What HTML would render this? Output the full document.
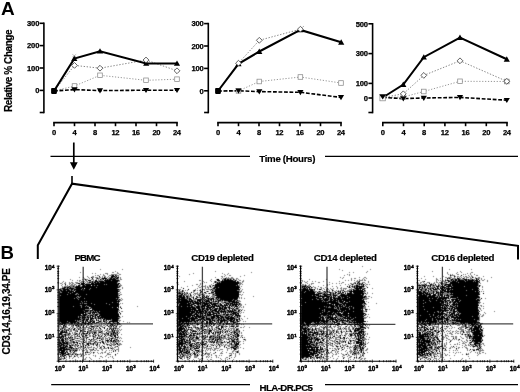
<!DOCTYPE html>
<html><head><meta charset="utf-8"><title>Figure</title>
<style>html,body{margin:0;padding:0;background:#fff;}svg{display:block;will-change:transform;}</style>
</head><body>
<svg width="520" height="392" viewBox="0 0 520 392" font-family="Liberation Sans, sans-serif" font-weight="bold" fill="#000">
<rect width="520" height="392" fill="#fff"/>
<defs><filter id="bl" x="-5%" y="-5%" width="110%" height="110%"><feConvolveMatrix order="3" kernelMatrix="0.0113 0.0838 0.0113 0.0838 0.6196 0.0838 0.0113 0.0838 0.0113" divisor="1" edgeMode="none" preserveAlpha="false"/></filter></defs>
<text x="0.9" y="14.8" font-size="19" text-anchor="start" >A</text>
<text x="0.5" y="258.7" font-size="18.6" text-anchor="start" >B</text>
<text x="11.7" y="112.0" font-size="10" text-anchor="start" textLength="82.6" lengthAdjust="spacing" transform="rotate(-90 11.7 112.0)" stroke="#000" stroke-width="0.18">Relative % Change</text>
<path d="M43.9 22.5V113.3" stroke="#000" stroke-width="1.6" fill="none"/>
<path d="M39.699999999999996 23.3H43.9" stroke="#000" stroke-width="1.6"/>
<text x="39.4" y="26.1" font-size="7.6" text-anchor="end" textLength="12.4" lengthAdjust="spacing" stroke="#000" stroke-width="0.25">300</text>
<path d="M39.699999999999996 45.6H43.9" stroke="#000" stroke-width="1.6"/>
<text x="39.4" y="48.4" font-size="7.6" text-anchor="end" textLength="12.4" lengthAdjust="spacing" stroke="#000" stroke-width="0.25">200</text>
<path d="M39.699999999999996 68.0H43.9" stroke="#000" stroke-width="1.6"/>
<text x="39.4" y="70.8" font-size="7.6" text-anchor="end" textLength="12.4" lengthAdjust="spacing" stroke="#000" stroke-width="0.25">100</text>
<path d="M39.699999999999996 90.4H43.9" stroke="#000" stroke-width="1.6"/>
<text x="39.4" y="93.2" font-size="7.6" text-anchor="end" textLength="4.1" lengthAdjust="spacing" stroke="#000" stroke-width="0.25">0</text>
<path d="M39.699999999999996 112.5H43.9" stroke="#000" stroke-width="1.6"/>
<path d="M53.2 122.6H177.8" stroke="#000" stroke-width="1.7" fill="none"/>
<path d="M54.0 122.6V126.19999999999999" stroke="#000" stroke-width="1.6"/>
<text x="54.0" y="134.5" font-size="7.6" text-anchor="middle" textLength="4.1" lengthAdjust="spacing" stroke="#000" stroke-width="0.25">0</text>
<path d="M74.5 122.6V126.19999999999999" stroke="#000" stroke-width="1.6"/>
<text x="74.5" y="134.5" font-size="7.6" text-anchor="middle" textLength="4.1" lengthAdjust="spacing" stroke="#000" stroke-width="0.25">4</text>
<path d="M95.0 122.6V126.19999999999999" stroke="#000" stroke-width="1.6"/>
<text x="95.0" y="134.5" font-size="7.6" text-anchor="middle" textLength="4.1" lengthAdjust="spacing" stroke="#000" stroke-width="0.25">8</text>
<path d="M115.5 122.6V126.19999999999999" stroke="#000" stroke-width="1.6"/>
<text x="115.5" y="134.5" font-size="7.6" text-anchor="middle" textLength="8.2" lengthAdjust="spacing" stroke="#000" stroke-width="0.25">12</text>
<path d="M136.0 122.6V126.19999999999999" stroke="#000" stroke-width="1.6"/>
<text x="136.0" y="134.5" font-size="7.6" text-anchor="middle" textLength="8.2" lengthAdjust="spacing" stroke="#000" stroke-width="0.25">16</text>
<path d="M156.5 122.6V126.19999999999999" stroke="#000" stroke-width="1.6"/>
<text x="156.5" y="134.5" font-size="7.6" text-anchor="middle" textLength="8.2" lengthAdjust="spacing" stroke="#000" stroke-width="0.25">20</text>
<path d="M177.0 122.6V126.19999999999999" stroke="#000" stroke-width="1.6"/>
<text x="177.0" y="134.5" font-size="7.6" text-anchor="middle" textLength="8.2" lengthAdjust="spacing" stroke="#000" stroke-width="0.25">24</text>
<polyline points="54.0,91.0 74.5,86.0 100.0,75.3 146.0,80.3 177.0,79.2" fill="none" stroke="#8a8a8a" stroke-width="0.9" stroke-dasharray="1.2 1.7"/>
<polyline points="54.0,91.0 74.5,65.4 100.0,68.2 146.0,60.0 177.0,70.8" fill="none" stroke="#7a7a7a" stroke-width="0.9" stroke-dasharray="1.4 1.6"/>
<polyline points="54.0,91.0 74.5,89.6 100.0,90.6 146.0,90.2 177.0,90.2" fill="none" stroke="#000" stroke-width="1.6" stroke-dasharray="3.8 1.7"/>
<polyline points="54.0,91.0 74.3,58.6 100.0,51.2 146.2,63.4 177.0,63.4" fill="none" stroke="#000" stroke-width="2.05" stroke-linejoin="miter"/>
<rect x="72.2" y="83.7" width="4.6" height="4.6" fill="#fff" stroke="#8a8a8a" stroke-width="0.75"/>
<rect x="97.7" y="73.0" width="4.6" height="4.6" fill="#fff" stroke="#8a8a8a" stroke-width="0.75"/>
<rect x="143.7" y="78.0" width="4.6" height="4.6" fill="#fff" stroke="#8a8a8a" stroke-width="0.75"/>
<rect x="174.7" y="76.9" width="4.6" height="4.6" fill="#fff" stroke="#8a8a8a" stroke-width="0.75"/>
<path d="M71.4 87.3L77.6 87.3L74.5 92.5Z" fill="#000"/>
<path d="M96.9 88.3L103.1 88.3L100.0 93.5Z" fill="#000"/>
<path d="M142.9 87.9L149.1 87.9L146.0 93.1Z" fill="#000"/>
<path d="M173.9 87.9L180.1 87.9L177.0 93.1Z" fill="#000"/>
<path d="M71.2 61.0L77.4 61.0L74.3 55.6Z" fill="#000"/>
<path d="M96.9 53.6L103.1 53.6L100.0 48.2Z" fill="#000"/>
<path d="M143.1 65.8L149.3 65.8L146.2 60.4Z" fill="#000"/>
<path d="M173.9 65.8L180.1 65.8L177.0 60.4Z" fill="#000"/>
<path d="M71.6 65.4L74.5 62.5L77.4 65.4L74.5 68.3Z" fill="#fff" stroke="#3a3a3a" stroke-width="0.8"/>
<path d="M97.1 68.2L100.0 65.3L102.9 68.2L100.0 71.1Z" fill="#fff" stroke="#3a3a3a" stroke-width="0.8"/>
<path d="M143.1 60.0L146.0 57.1L148.9 60.0L146.0 62.9Z" fill="#fff" stroke="#3a3a3a" stroke-width="0.8"/>
<path d="M174.1 70.8L177.0 67.9L179.9 70.8L177.0 73.7Z" fill="#fff" stroke="#3a3a3a" stroke-width="0.8"/>
<rect x="51.1" y="88.1" width="5.8" height="5.8" rx="0.8" fill="#000"/>
<path d="M72.3 54.3L76.2 57M76.2 54.3L72.3 57" stroke="#9a9a9a" stroke-width="0.6" fill="none"/>
<path d="M208.3 22.8V113.3" stroke="#000" stroke-width="1.6" fill="none"/>
<path d="M204.10000000000002 23.6H208.3" stroke="#000" stroke-width="1.6"/>
<text x="203.8" y="26.400000000000002" font-size="7.6" text-anchor="end" textLength="12.4" lengthAdjust="spacing" stroke="#000" stroke-width="0.25">300</text>
<path d="M204.10000000000002 46.0H208.3" stroke="#000" stroke-width="1.6"/>
<text x="203.8" y="48.8" font-size="7.6" text-anchor="end" textLength="12.4" lengthAdjust="spacing" stroke="#000" stroke-width="0.25">200</text>
<path d="M204.10000000000002 68.4H208.3" stroke="#000" stroke-width="1.6"/>
<text x="203.8" y="71.2" font-size="7.6" text-anchor="end" textLength="12.4" lengthAdjust="spacing" stroke="#000" stroke-width="0.25">100</text>
<path d="M204.10000000000002 90.8H208.3" stroke="#000" stroke-width="1.6"/>
<text x="203.8" y="93.6" font-size="7.6" text-anchor="end" textLength="4.1" lengthAdjust="spacing" stroke="#000" stroke-width="0.25">0</text>
<path d="M204.10000000000002 112.5H208.3" stroke="#000" stroke-width="1.6"/>
<path d="M217.2 122.6H341.8" stroke="#000" stroke-width="1.7" fill="none"/>
<path d="M218.0 122.6V126.19999999999999" stroke="#000" stroke-width="1.6"/>
<text x="218.0" y="134.5" font-size="7.6" text-anchor="middle" textLength="4.1" lengthAdjust="spacing" stroke="#000" stroke-width="0.25">0</text>
<path d="M238.5 122.6V126.19999999999999" stroke="#000" stroke-width="1.6"/>
<text x="238.5" y="134.5" font-size="7.6" text-anchor="middle" textLength="4.1" lengthAdjust="spacing" stroke="#000" stroke-width="0.25">4</text>
<path d="M259.0 122.6V126.19999999999999" stroke="#000" stroke-width="1.6"/>
<text x="259.0" y="134.5" font-size="7.6" text-anchor="middle" textLength="4.1" lengthAdjust="spacing" stroke="#000" stroke-width="0.25">8</text>
<path d="M279.5 122.6V126.19999999999999" stroke="#000" stroke-width="1.6"/>
<text x="279.5" y="134.5" font-size="7.6" text-anchor="middle" textLength="8.2" lengthAdjust="spacing" stroke="#000" stroke-width="0.25">12</text>
<path d="M300.0 122.6V126.19999999999999" stroke="#000" stroke-width="1.6"/>
<text x="300.0" y="134.5" font-size="7.6" text-anchor="middle" textLength="8.2" lengthAdjust="spacing" stroke="#000" stroke-width="0.25">16</text>
<path d="M320.5 122.6V126.19999999999999" stroke="#000" stroke-width="1.6"/>
<text x="320.5" y="134.5" font-size="7.6" text-anchor="middle" textLength="8.2" lengthAdjust="spacing" stroke="#000" stroke-width="0.25">20</text>
<path d="M341.0 122.6V126.19999999999999" stroke="#000" stroke-width="1.6"/>
<text x="341.0" y="134.5" font-size="7.6" text-anchor="middle" textLength="8.2" lengthAdjust="spacing" stroke="#000" stroke-width="0.25">24</text>
<polyline points="218.0,91.0 238.5,90.9 259.3,81.5 300.4,77.0 341.0,83.0" fill="none" stroke="#8a8a8a" stroke-width="0.9" stroke-dasharray="1.2 1.7"/>
<polyline points="218.0,91.0 238.5,63.2 259.3,40.3 300.4,29.2 304.5,25.6" fill="none" stroke="#7a7a7a" stroke-width="0.9" stroke-dasharray="1.4 1.6"/>
<polyline points="218.0,91.0 238.5,90.8 259.3,91.6 300.4,92.3 341.0,97.4" fill="none" stroke="#000" stroke-width="1.6" stroke-dasharray="3.8 1.7"/>
<polyline points="218.0,91.0 238.5,63.8 259.3,51.5 300.4,29.9 341.2,42.3" fill="none" stroke="#000" stroke-width="2.05" stroke-linejoin="miter"/>
<rect x="236.2" y="88.6" width="4.6" height="4.6" fill="#fff" stroke="#8a8a8a" stroke-width="0.75"/>
<rect x="257.0" y="79.2" width="4.6" height="4.6" fill="#fff" stroke="#8a8a8a" stroke-width="0.75"/>
<rect x="298.1" y="74.7" width="4.6" height="4.6" fill="#fff" stroke="#8a8a8a" stroke-width="0.75"/>
<rect x="338.7" y="80.7" width="4.6" height="4.6" fill="#fff" stroke="#8a8a8a" stroke-width="0.75"/>
<path d="M235.4 88.5L241.6 88.5L238.5 93.7Z" fill="#000"/>
<path d="M256.2 89.3L262.4 89.3L259.3 94.5Z" fill="#000"/>
<path d="M297.3 90.0L303.5 90.0L300.4 95.2Z" fill="#000"/>
<path d="M337.9 95.1L344.1 95.1L341.0 100.3Z" fill="#000"/>
<path d="M235.4 66.2L241.6 66.2L238.5 60.8Z" fill="#000"/>
<path d="M256.2 53.9L262.4 53.9L259.3 48.5Z" fill="#000"/>
<path d="M297.3 32.3L303.5 32.3L300.4 26.9Z" fill="#000"/>
<path d="M338.1 44.7L344.3 44.7L341.2 39.3Z" fill="#000"/>
<path d="M235.6 63.2L238.5 60.3L241.4 63.2L238.5 66.1Z" fill="#fff" stroke="#3a3a3a" stroke-width="0.8"/>
<path d="M256.4 40.3L259.3 37.4L262.2 40.3L259.3 43.2Z" fill="#fff" stroke="#3a3a3a" stroke-width="0.8"/>
<path d="M297.5 29.2L300.4 26.3L303.3 29.2L300.4 32.1Z" fill="#fff" stroke="#3a3a3a" stroke-width="0.8"/>
<rect x="215.1" y="88.1" width="5.8" height="5.8" rx="0.8" fill="#000"/>
<path d="M372.6 23.0V113.3" stroke="#000" stroke-width="1.6" fill="none"/>
<path d="M368.40000000000003 23.8H372.6" stroke="#000" stroke-width="1.6"/>
<text x="368.1" y="26.6" font-size="7.6" text-anchor="end" textLength="12.4" lengthAdjust="spacing" stroke="#000" stroke-width="0.25">500</text>
<path d="M368.40000000000003 53.6H372.6" stroke="#000" stroke-width="1.6"/>
<text x="368.1" y="56.4" font-size="7.6" text-anchor="end" textLength="12.4" lengthAdjust="spacing" stroke="#000" stroke-width="0.25">300</text>
<path d="M368.40000000000003 83.4H372.6" stroke="#000" stroke-width="1.6"/>
<text x="368.1" y="86.2" font-size="7.6" text-anchor="end" textLength="12.4" lengthAdjust="spacing" stroke="#000" stroke-width="0.25">100</text>
<path d="M368.40000000000003 98.0H372.6" stroke="#000" stroke-width="1.6"/>
<text x="368.1" y="100.8" font-size="7.6" text-anchor="end" textLength="4.1" lengthAdjust="spacing" stroke="#000" stroke-width="0.25">0</text>
<path d="M368.40000000000003 112.5H372.6" stroke="#000" stroke-width="1.6"/>
<path d="M382.0 122.6H507.8" stroke="#000" stroke-width="1.7" fill="none"/>
<path d="M382.8 122.6V126.19999999999999" stroke="#000" stroke-width="1.6"/>
<text x="382.8" y="134.5" font-size="7.6" text-anchor="middle" textLength="4.1" lengthAdjust="spacing" stroke="#000" stroke-width="0.25">0</text>
<path d="M403.5 122.6V126.19999999999999" stroke="#000" stroke-width="1.6"/>
<text x="403.5" y="134.5" font-size="7.6" text-anchor="middle" textLength="4.1" lengthAdjust="spacing" stroke="#000" stroke-width="0.25">4</text>
<path d="M424.2 122.6V126.19999999999999" stroke="#000" stroke-width="1.6"/>
<text x="424.2" y="134.5" font-size="7.6" text-anchor="middle" textLength="4.1" lengthAdjust="spacing" stroke="#000" stroke-width="0.25">8</text>
<path d="M444.9 122.6V126.19999999999999" stroke="#000" stroke-width="1.6"/>
<text x="444.9" y="134.5" font-size="7.6" text-anchor="middle" textLength="8.2" lengthAdjust="spacing" stroke="#000" stroke-width="0.25">12</text>
<path d="M465.6 122.6V126.19999999999999" stroke="#000" stroke-width="1.6"/>
<text x="465.6" y="134.5" font-size="7.6" text-anchor="middle" textLength="8.2" lengthAdjust="spacing" stroke="#000" stroke-width="0.25">16</text>
<path d="M486.3 122.6V126.19999999999999" stroke="#000" stroke-width="1.6"/>
<text x="486.3" y="134.5" font-size="7.6" text-anchor="middle" textLength="8.2" lengthAdjust="spacing" stroke="#000" stroke-width="0.25">20</text>
<path d="M507.0 122.6V126.19999999999999" stroke="#000" stroke-width="1.6"/>
<text x="507.0" y="134.5" font-size="7.6" text-anchor="middle" textLength="8.2" lengthAdjust="spacing" stroke="#000" stroke-width="0.25">24</text>
<polyline points="382.8,97.5 403.3,97.0 423.8,91.5 460.0,81.3 506.8,81.5" fill="none" stroke="#8a8a8a" stroke-width="0.9" stroke-dasharray="1.2 1.7"/>
<polyline points="382.8,97.5 403.3,93.8 423.8,75.4 460.0,60.8 506.8,81.3" fill="none" stroke="#7a7a7a" stroke-width="0.9" stroke-dasharray="1.4 1.6"/>
<polyline points="382.8,97.5 403.3,98.6 423.8,98.0 460.0,97.4 506.8,100.2" fill="none" stroke="#000" stroke-width="1.6" stroke-dasharray="3.8 1.7"/>
<polyline points="382.8,97.5 403.3,84.6 423.8,57.2 460.0,37.6 506.8,59.3" fill="none" stroke="#000" stroke-width="2.05" stroke-linejoin="miter"/>
<rect x="401.0" y="94.7" width="4.6" height="4.6" fill="#fff" stroke="#8a8a8a" stroke-width="0.75"/>
<rect x="421.5" y="89.2" width="4.6" height="4.6" fill="#fff" stroke="#8a8a8a" stroke-width="0.75"/>
<rect x="457.7" y="79.0" width="4.6" height="4.6" fill="#fff" stroke="#8a8a8a" stroke-width="0.75"/>
<rect x="504.5" y="79.2" width="4.6" height="4.6" fill="#fff" stroke="#8a8a8a" stroke-width="0.75"/>
<path d="M400.2 96.3L406.4 96.3L403.3 101.5Z" fill="#000"/>
<path d="M420.7 95.7L426.9 95.7L423.8 100.9Z" fill="#000"/>
<path d="M456.9 95.1L463.1 95.1L460.0 100.3Z" fill="#000"/>
<path d="M503.7 97.9L509.9 97.9L506.8 103.1Z" fill="#000"/>
<path d="M400.2 87.0L406.4 87.0L403.3 81.6Z" fill="#000"/>
<path d="M420.7 59.6L426.9 59.6L423.8 54.2Z" fill="#000"/>
<path d="M456.9 40.0L463.1 40.0L460.0 34.6Z" fill="#000"/>
<path d="M503.7 61.7L509.9 61.7L506.8 56.3Z" fill="#000"/>
<path d="M400.4 93.8L403.3 90.9L406.2 93.8L403.3 96.7Z" fill="#fff" stroke="#3a3a3a" stroke-width="0.8"/>
<path d="M420.9 75.4L423.8 72.5L426.7 75.4L423.8 78.3Z" fill="#fff" stroke="#3a3a3a" stroke-width="0.8"/>
<path d="M457.1 60.8L460.0 57.9L462.9 60.8L460.0 63.7Z" fill="#fff" stroke="#3a3a3a" stroke-width="0.8"/>
<path d="M503.9 81.3L506.8 78.4L509.7 81.3L506.8 84.2Z" fill="#fff" stroke="#3a3a3a" stroke-width="0.8"/>
<rect x="379.9" y="95.4" width="5.4" height="5.4" fill="#fff" stroke="#8a8a8a" stroke-width="0.75"/>
<path d="M379.2 94.3H386.2L382.7 99.4Z" fill="#000"/>
<path d="M50.5 156.3H250M325 156.3H518" stroke="#000" stroke-width="1.2" fill="none"/>
<text x="259.3" y="162.4" font-size="9.7" text-anchor="start" textLength="56.1" lengthAdjust="spacing" stroke="#000" stroke-width="0.18">Time (Hours)</text>
<path d="M73.8 142.5V164" stroke="#000" stroke-width="1.7" fill="none"/>
<path d="M69.9 162.3H77.7L73.8 169.8Z" fill="#000"/>
<path d="M72 176V183.6" stroke="#000" stroke-width="1.6" fill="none"/>
<path d="M37.8 259V245.2L72 183.7L518 245.8V259.4" stroke="#000" stroke-width="2" fill="none" stroke-linejoin="miter"/>
<path d="M83.2 266.8V361.2M58.8 323.9H153.0" stroke="#484848" stroke-width="1.3" fill="none"/>
<g transform="translate(59 266.5)" filter="url(#bl)" fill="none" stroke="#000" stroke-width="1">
<path d="M41 3h1M63 3h1M56 5h1M21 6h1M53 6h2M58 6h1M33 7h1M36 7h1M46 7h3M58 7h2M41 8h1M44 8h1M48 8h1M52 8h6M60 8h2M36 9h1M38 9h2M44 9h2M50 9h3M57 9h3M28 10h1M33 10h2M43 10h1M45 10h2M49 10h1M56 10h1M59 10h1M20 11h1M24 11h1M29 11h1M33 11h2M36 11h3M40 11h2M43 11h1M46 11h1M48 11h1M50 11h2M54 11h2M57 11h1M61 11h1M25 12h1M30 12h1M37 12h1M39 12h2M42 12h1M49 12h2M53 12h1M56 12h1M59 12h1M61 12h1M11 13h1M23 13h1M25 13h1M27 13h2M32 13h3M37 13h1M39 13h1M42 13h2M47 13h1M49 13h1M57 13h3M61 13h2M13 14h1M18 14h1M20 14h2M26 14h2M34 14h1M39 14h5M52 14h1M60 14h1M4 15h1M20 15h1M22 15h4M27 15h2M30 15h3M34 15h2M39 15h1M45 15h1M59 15h2M3 16h1M6 16h1M10 16h1M12 16h2M16 16h3M21 16h2M26 16h1M28 16h2M32 16h1M34 16h1M37 16h1M40 16h1M58 16h1M1 17h2M5 17h2M10 17h2M13 17h2M17 17h2M27 17h4M35 17h1M58 17h1M3 18h1M10 18h1M12 18h2M15 18h2M20 18h2M25 18h1M45 18h1M47 18h1M61 18h1M2 19h1M6 19h1M8 19h1M11 19h5M17 19h1M21 19h1M23 19h1M26 19h1M35 19h1M38 19h1M59 19h4M3 20h1M5 20h5M11 20h3M15 20h2M21 20h2M59 20h1M61 20h1M3 21h2M7 21h1M10 21h1M12 21h4M37 21h1M60 21h1M63 21h1M1 22h2M6 22h2M9 22h1M15 22h2M23 22h1M31 22h1M58 22h1M63 22h1M2 23h2M10 23h2M14 23h1M22 23h1M24 23h1M30 23h1M60 23h2M0 24h1M3 24h1M7 24h1M11 24h1M13 24h2M16 24h1M24 24h1M59 24h2M1 25h1M60 25h1M1 26h2M9 26h1M13 26h1M61 26h1M11 27h1M17 27h2M59 27h2M8 28h1M16 28h2M19 28h1M27 28h1M59 28h1M61 28h2M1 29h1M59 29h1M18 30h2M21 30h1M59 30h1M17 31h1M19 31h2M60 31h1M15 32h1M18 32h1M25 32h1M57 32h1M59 32h1M62 32h1M19 33h1M59 33h1M61 33h1M63 33h1M58 34h1M60 34h3M22 35h1M25 35h1M27 35h1M23 36h1M53 36h1M58 36h1M21 37h1M23 37h1M25 37h3M32 37h1M47 37h1M61 37h1M63 37h1M35 38h1M50 38h1M60 38h1M21 39h2M27 39h1M14 40h1M22 40h1M26 40h1M28 40h2M61 40h1M78 40h1M22 41h1M31 41h1M53 41h1M30 42h1M32 42h1M59 42h1M26 43h5M24 44h1M30 44h1M34 44h1M59 44h2M25 45h1M29 45h2M32 45h2M35 45h1M37 45h1M40 45h1M59 45h1M62 45h2M27 46h4M32 46h1M38 46h1M27 47h2M34 47h1M37 47h3M59 47h1M23 48h1M28 48h1M30 48h4M35 48h1M39 48h2M61 48h1M23 49h1M27 49h2M30 49h1M34 49h2M38 49h1M19 50h1M21 50h2M24 50h1M26 50h2M29 50h2M35 50h1M41 50h1M63 50h1M19 51h1M22 51h1M27 51h1M30 51h1M32 51h1M35 51h1M37 51h2M40 51h1M59 51h3M21 52h2M24 52h1M26 52h3M35 52h1M37 52h2M42 52h1M44 52h1M60 52h1M22 53h2M26 53h1M33 53h2M39 53h1M41 53h2M46 53h1M52 53h1M59 53h1M16 54h1M18 54h1M20 54h3M25 54h2M30 54h1M32 54h1M34 54h2M38 54h1M41 54h2M45 54h2M49 54h1M51 54h2M59 54h3M8 55h1M18 55h3M22 55h2M27 55h1M29 55h2M33 55h1M39 55h1M42 55h1M46 55h3M60 55h1M64 55h1M1 56h1M10 56h1M17 56h1M20 56h1M22 56h1M25 56h1M27 56h1M40 56h4M45 56h2M49 56h1M51 56h1M53 56h1M55 56h3M68 56h1M70 56h1M0 57h1M2 57h1M7 57h5M16 57h3M20 57h5M27 57h1M30 57h2M33 57h1M35 57h3M42 57h1M44 57h2M47 57h2M50 57h1M52 57h3M56 57h2M59 57h1M1 58h1M6 58h2M10 58h8M19 58h3M23 58h1M25 58h1M28 58h1M30 58h4M40 58h1M42 58h1M46 58h1M48 58h1M51 58h1M54 58h1M56 58h1M59 58h3M0 59h2M6 59h2M9 59h2M12 59h2M18 59h1M20 59h2M24 59h2M27 59h3M31 59h2M35 59h8M44 59h2M47 59h1M50 59h1M52 59h1M54 59h1M56 59h3M62 59h1M0 60h3M5 60h1M7 60h1M12 60h3M17 60h2M20 60h2M30 60h2M35 60h3M39 60h1M41 60h3M46 60h1M50 60h2M56 60h1M60 60h2M0 61h1M2 61h2M5 61h4M11 61h1M13 61h2M17 61h2M20 61h1M23 61h8M32 61h4M37 61h1M43 61h2M50 61h3M54 61h4M60 61h1M0 62h3M4 62h3M9 62h1M12 62h2M16 62h1M18 62h5M25 62h2M29 62h2M32 62h1M36 62h3M40 62h1M50 62h1M52 62h2M55 62h1M57 62h3M2 63h2M6 63h7M17 63h1M20 63h2M23 63h4M28 63h2M33 63h2M36 63h1M39 63h1M41 63h2M47 63h2M53 63h1M56 63h1M58 63h1M60 63h1M62 63h1M2 64h1M4 64h3M8 64h1M11 64h2M14 64h5M23 64h1M25 64h1M29 64h2M32 64h1M34 64h8M43 64h1M46 64h4M52 64h1M54 64h1M56 64h4M61 64h1M0 65h2M4 65h1M6 65h1M10 65h3M16 65h2M22 65h2M29 65h9M39 65h3M43 65h1M45 65h1M48 65h5M54 65h1M57 65h3M8 66h1M10 66h1M13 66h1M15 66h2M20 66h2M23 66h1M29 66h6M37 66h1M39 66h1M42 66h2M49 66h5M56 66h2M60 66h1M3 67h1M6 67h4M11 67h1M13 67h1M15 67h2M18 67h1M22 67h2M26 67h1M31 67h1M36 67h2M39 67h1M42 67h6M51 67h1M53 67h1M55 67h1M57 67h3M3 68h2M7 68h2M10 68h2M14 68h2M17 68h4M25 68h3M29 68h2M35 68h2M38 68h2M41 68h1M43 68h1M46 68h3M51 68h1M53 68h1M55 68h3M62 68h1M2 69h1M4 69h2M7 69h4M12 69h2M15 69h1M20 69h1M22 69h2M28 69h1M30 69h2M33 69h2M37 69h1M40 69h1M42 69h2M48 69h3M52 69h3M1 70h1M5 70h1M9 70h1M11 70h2M15 70h5M24 70h4M30 70h2M33 70h1M35 70h2M39 70h3M47 70h1M51 70h1M53 70h1M59 70h1M3 71h1M6 71h2M10 71h1M12 71h1M15 71h2M25 71h3M29 71h1M34 71h3M40 71h2M43 71h2M46 71h1M49 71h2M53 71h2M57 71h1M59 71h1M61 71h1M0 72h1M2 72h1M4 72h2M7 72h1M11 72h3M15 72h3M19 72h2M22 72h1M24 72h2M37 72h1M39 72h1M41 72h4M46 72h3M50 72h2M54 72h3M58 72h1M60 72h1M62 72h1M7 73h3M11 73h2M15 73h1M21 73h5M27 73h1M29 73h1M33 73h5M43 73h2M46 73h1M48 73h1M55 73h2M58 73h1M1 74h1M5 74h4M10 74h1M12 74h2M16 74h5M27 74h1M32 74h1M34 74h2M38 74h1M41 74h1M43 74h1M46 74h1M56 74h3M61 74h1M1 75h2M7 75h3M11 75h3M15 75h1M17 75h1M19 75h4M26 75h2M29 75h6M37 75h1M42 75h1M44 75h1M46 75h1M49 75h3M53 75h1M55 75h1M57 75h4M63 75h1M2 76h1M6 76h1M9 76h5M16 76h1M22 76h1M24 76h1M26 76h2M29 76h3M36 76h5M46 76h1M48 76h2M51 76h1M53 76h5M59 76h1M3 77h1M9 77h4M14 77h2M21 77h1M27 77h1M30 77h1M32 77h2M35 77h2M41 77h1M45 77h1M47 77h1M51 77h2M54 77h2M60 77h2M1 78h1M5 78h3M9 78h2M12 78h3M17 78h2M21 78h1M23 78h1M25 78h1M27 78h1M31 78h3M36 78h2M40 78h1M45 78h1M47 78h1M49 78h2M52 78h4M59 78h4M3 79h1M6 79h1M8 79h1M12 79h1M14 79h5M21 79h1M24 79h1M27 79h1M30 79h1M34 79h1M38 79h1M40 79h1M43 79h1M48 79h1M50 79h1M52 79h1M54 79h2M59 79h2M2 80h2M5 80h1M10 80h1M12 80h1M15 80h2M21 80h1M26 80h1M28 80h1M32 80h1M38 80h1M40 80h1M42 80h1M45 80h1M52 80h1M56 80h2M0 81h1M7 81h3M16 81h1M19 81h4M25 81h1M28 81h5M34 81h2M38 81h1M42 81h1M48 81h1M51 81h1M53 81h1M55 81h2M59 81h1M71 81h1M6 82h1M8 82h4M13 82h1M15 82h2M18 82h2M21 82h1M24 82h2M27 82h1M29 82h1M34 82h1M36 82h2M40 82h3M44 82h4M51 82h1M53 82h2M59 82h1M3 83h1M11 83h8M20 83h1M22 83h1M26 83h2M30 83h4M37 83h1M42 83h2M53 83h1M55 83h1M57 83h3M6 84h3M10 84h1M12 84h2M15 84h1M18 84h1M20 84h1M23 84h3M27 84h2M31 84h3M35 84h2M38 84h2M43 84h1M47 84h1M50 84h1M52 84h1M54 84h1M59 84h1M8 85h1M10 85h1M13 85h1M16 85h2M23 85h1M27 85h2M31 85h1M46 85h1M56 85h1M59 85h1M5 86h1M7 86h1M11 86h2M15 86h1M27 86h1M29 86h2M32 86h1M35 86h1M38 86h1M42 86h2M45 86h2M50 86h1M52 86h1M0 87h2M8 87h1M10 87h2M13 87h5M21 87h1M23 87h1M26 87h1M31 87h1M34 87h1M39 87h1M41 87h1M43 87h1M48 87h2M58 87h1M0 88h1M2 88h1M5 88h2M10 88h3M14 88h1M17 88h1M19 88h5M26 88h2M29 88h2M48 88h4M1 89h2M4 89h1M9 89h2M12 89h1M15 89h1M17 89h2M25 89h1M34 89h1M36 89h1M47 89h1M56 89h1M2 90h2M5 90h1M7 90h1M11 90h2M16 90h1M18 90h1M21 90h2M36 90h1M41 90h2M46 90h1M51 90h1M53 90h1M2 91h1M7 91h1M10 91h1M14 91h1M19 91h1M27 91h1M30 91h1M43 91h1M49 91h1M53 91h1M0 92h5M6 92h1M10 92h1M13 92h1M26 92h1M31 92h1M40 92h1M54 92h1M2 93h1M4 93h1M7 93h1M16 93h1M25 93h2M32 93h1" stroke-opacity="0.5"/>
<path d="M53 9h2M56 9h1M40 10h1M52 10h4M57 10h1M32 11h1M45 11h1M52 11h2M56 11h1M58 11h2M33 12h1M38 12h1M43 12h5M51 12h2M54 12h2M57 12h2M26 13h1M41 13h1M44 13h1M46 13h1M48 13h1M50 13h7M29 14h3M36 14h2M45 14h7M53 14h7M33 15h1M36 15h3M40 15h5M46 15h13M24 16h1M30 16h2M33 16h1M35 16h2M38 16h2M41 16h17M19 17h2M22 17h4M32 17h3M36 17h22M59 17h2M6 18h1M22 18h3M26 18h19M46 18h1M48 18h12M19 19h2M24 19h2M27 19h5M33 19h2M36 19h2M39 19h20M10 20h1M14 20h1M17 20h4M23 20h36M60 20h1M5 21h2M8 21h2M11 21h1M16 21h21M38 21h22M3 22h3M8 22h1M10 22h5M17 22h6M24 22h1M26 22h5M32 22h26M0 23h2M4 23h6M12 23h2M15 23h7M23 23h1M25 23h5M31 23h29M1 24h2M4 24h3M8 24h3M12 24h1M15 24h1M17 24h7M25 24h34M0 25h1M2 25h13M16 25h44M0 26h1M3 26h6M10 26h3M14 26h45M0 27h11M12 27h5M19 27h40M0 28h8M9 28h7M18 28h1M20 28h7M28 28h31M0 29h1M2 29h57M60 29h1M0 30h18M20 30h1M22 30h37M0 31h17M18 31h1M21 31h39M0 32h15M16 32h2M19 32h6M26 32h31M58 32h1M0 33h19M20 33h39M60 33h1M0 34h58M59 34h1M0 35h22M23 35h2M26 35h1M28 35h33M0 36h23M24 36h29M54 36h4M59 36h1M0 37h21M22 37h1M24 37h1M28 37h4M33 37h14M48 37h12M0 38h35M36 38h14M51 38h9M0 39h21M23 39h4M28 39h32M0 40h14M15 40h7M23 40h3M27 40h1M30 40h30M0 41h22M23 41h7M32 41h21M54 41h4M59 41h1M61 41h1M0 42h30M31 42h1M33 42h26M62 42h1M0 43h26M33 43h27M0 44h24M25 44h5M31 44h3M35 44h24M0 45h25M26 45h3M31 45h1M34 45h1M36 45h1M38 45h2M41 45h18M0 46h27M31 46h1M33 46h5M39 46h20M60 46h1M0 47h25M26 47h1M29 47h3M33 47h1M35 47h1M40 47h19M61 47h1M0 48h22M24 48h4M34 48h1M36 48h3M41 48h19M0 49h23M24 49h3M29 49h1M31 49h3M36 49h2M40 49h20M0 50h19M20 50h1M23 50h1M25 50h1M28 50h1M31 50h1M33 50h2M36 50h1M38 50h3M42 50h19M0 51h19M20 51h2M23 51h4M28 51h2M31 51h1M33 51h1M36 51h1M39 51h1M41 51h18M0 52h21M23 52h1M25 52h1M29 52h1M31 52h4M36 52h1M39 52h3M43 52h1M45 52h15M0 53h22M24 53h2M27 53h3M31 53h2M37 53h1M44 53h2M47 53h5M53 53h6M0 54h16M17 54h1M19 54h1M23 54h2M27 54h2M31 54h1M33 54h1M37 54h1M39 54h1M44 54h1M47 54h1M53 54h6M0 55h8M9 55h9M21 55h1M24 55h1M26 55h1M28 55h1M31 55h2M34 55h2M40 55h2M44 55h2M50 55h9M0 56h1M2 56h8M11 56h6M18 56h2M23 56h2M26 56h1M29 56h3M33 56h3M37 56h3M47 56h1M50 56h1M54 56h1M58 56h2M1 57h1M3 57h4M12 57h2M15 57h1M19 57h1M25 57h2M28 57h2M32 57h1M49 57h1M51 57h1M55 57h1M58 57h1M60 57h1M0 58h1M2 58h2M5 58h1M18 58h1M22 58h1M26 58h1M29 58h1M52 58h2M58 58h1M4 59h2M14 59h1M16 59h2M19 59h1M22 59h1M48 59h1M51 59h1M53 59h1M55 59h1M4 60h1M6 60h1M19 60h1M24 60h1M27 60h1M32 60h3M38 60h1M49 60h1M52 60h1M54 60h1M57 60h1M4 61h1M21 61h1M40 61h1M45 61h1M3 62h1M10 62h1M15 62h1M31 62h1M34 62h1M41 62h1M45 62h1M48 62h1M51 62h1M54 62h1M56 62h1M1 63h1M5 63h1M14 63h2M19 63h1M32 63h1M50 63h1M52 63h1M54 63h1M0 64h1M3 64h1M7 64h1M9 64h1M21 64h2M31 64h1M53 64h1M55 64h1M2 65h2M5 65h1M7 65h1M18 65h1M21 65h1M25 65h2M28 65h1M42 65h1M53 65h1M55 65h1M1 66h7M28 66h1M35 66h2M40 66h2M47 66h1M54 66h2M58 66h1M0 67h3M10 67h1M17 67h1M20 67h1M24 67h2M27 67h2M30 67h1M33 67h1M35 67h1M48 67h2M52 67h1M54 67h1M56 67h1M0 68h3M5 68h2M9 68h1M16 68h1M22 68h1M34 68h1M45 68h1M49 68h1M52 68h1M54 68h1M58 68h1M0 69h1M3 69h1M6 69h1M18 69h1M26 69h2M36 69h1M39 69h1M46 69h1M51 69h1M55 69h2M58 69h1M0 70h1M2 70h3M6 70h1M20 70h1M23 70h1M34 70h1M42 70h1M45 70h1M52 70h1M55 70h2M0 71h3M4 71h1M9 71h1M11 71h1M13 71h1M21 71h1M28 71h1M38 71h1M56 71h1M58 71h1M1 72h1M3 72h1M6 72h1M8 72h1M10 72h1M18 72h1M27 72h1M34 72h1M38 72h1M40 72h1M52 72h2M0 73h1M2 73h3M6 73h1M13 73h2M30 73h1M32 73h1M42 73h1M50 73h1M52 73h1M57 73h1M0 74h1M2 74h3M11 74h1M25 74h1M31 74h1M40 74h1M47 74h3M51 74h2M54 74h2M59 74h1M0 75h1M3 75h2M6 75h1M14 75h1M24 75h1M36 75h1M43 75h1M48 75h1M52 75h1M54 75h1M56 75h1M0 76h2M3 76h3M7 76h2M14 76h2M17 76h2M25 76h1M35 76h1M41 76h1M43 76h2M0 77h3M4 77h5M18 77h1M20 77h1M23 77h1M28 77h2M31 77h1M34 77h1M38 77h1M44 77h1M57 77h2M0 78h1M2 78h3M8 78h1M16 78h1M28 78h2M34 78h1M38 78h1M48 78h1M56 78h1M58 78h1M0 79h3M4 79h2M7 79h1M10 79h2M13 79h1M19 79h1M26 79h1M29 79h1M37 79h1M51 79h1M0 80h2M4 80h1M6 80h3M11 80h1M18 80h1M22 80h1M24 80h1M44 80h1M58 80h1M1 81h6M10 81h4M26 81h1M41 81h1M45 81h1M49 81h1M0 82h6M7 82h1M12 82h1M14 82h1M17 82h1M49 82h1M52 82h1M0 83h3M4 83h7M34 83h1M0 84h6M11 84h1M14 84h1M16 84h2M56 84h1M0 85h1M2 85h4M7 85h1M11 85h1M15 85h1M54 85h1M0 86h5M6 86h1M8 86h1M14 86h1M26 86h1M28 86h1M34 86h1M2 87h5M9 87h1M1 88h1M3 88h2M7 88h3M13 88h1M16 88h1M18 88h1M56 88h1M3 89h1M5 89h2M22 89h1M1 90h1M4 90h1M10 90h1M15 90h1M0 91h1M5 91h1M5 92h1M0 93h2"/>
</g>
<path d="M58.2 265.59999999999997V361.2H153.9" stroke="#000" stroke-width="1.15" fill="none"/>
<path d="M58.8 359.59999999999997v3.2M56.6 361.2h3.2M82.5 359.59999999999997v3.2M56.6 337.4h3.2M106.2 359.59999999999997v3.2M56.6 313.7h3.2M129.9 359.59999999999997v3.2M56.6 289.9h3.2M153.6 359.59999999999997v3.2M56.6 266.2h3.2M65.9 360.2v2.0M57.2 354.1h2.0M70.1 360.2v2.0M57.2 349.9h2.0M73.1 360.2v2.0M57.2 346.9h2.0M75.4 360.2v2.0M57.2 344.6h2.0M77.2 360.2v2.0M57.2 342.7h2.0M80.2 360.2v2.0M57.2 339.8h2.0M89.6 360.2v2.0M57.2 330.3h2.0M93.8 360.2v2.0M57.2 326.1h2.0M96.8 360.2v2.0M57.2 323.2h2.0M99.1 360.2v2.0M57.2 320.8h2.0M100.9 360.2v2.0M57.2 319.0h2.0M103.9 360.2v2.0M57.2 316.0h2.0M113.3 360.2v2.0M57.2 306.6h2.0M117.5 360.2v2.0M57.2 302.4h2.0M120.5 360.2v2.0M57.2 299.4h2.0M122.8 360.2v2.0M57.2 297.1h2.0M124.6 360.2v2.0M57.2 295.2h2.0M127.6 360.2v2.0M57.2 292.3h2.0M137.0 360.2v2.0M57.2 282.8h2.0M141.2 360.2v2.0M57.2 278.6h2.0M144.2 360.2v2.0M57.2 275.7h2.0M146.5 360.2v2.0M57.2 273.3h2.0M148.3 360.2v2.0M57.2 271.5h2.0M151.3 360.2v2.0M57.2 268.5h2.0" stroke="#000" stroke-width="0.7" fill="none"/>
<text x="59.7" y="370.7" font-size="6.3" text-anchor="middle" stroke="#000" stroke-width="0.42">10<tspan dx="0.3" dy="-2.6" font-size="4.4">0</tspan></text>
<text x="83.4" y="370.7" font-size="6.3" text-anchor="middle" stroke="#000" stroke-width="0.42">10<tspan dx="0.3" dy="-2.6" font-size="4.4">1</tspan></text>
<text x="54.4" y="339.1" font-size="6.3" text-anchor="end" stroke="#000" stroke-width="0.42">10<tspan dx="0.3" dy="-2.6" font-size="4.4">1</tspan></text>
<text x="107.1" y="370.7" font-size="6.3" text-anchor="middle" stroke="#000" stroke-width="0.42">10<tspan dx="0.3" dy="-2.6" font-size="4.4">2</tspan></text>
<text x="54.4" y="315.3" font-size="6.3" text-anchor="end" stroke="#000" stroke-width="0.42">10<tspan dx="0.3" dy="-2.6" font-size="4.4">2</tspan></text>
<text x="130.8" y="370.7" font-size="6.3" text-anchor="middle" stroke="#000" stroke-width="0.42">10<tspan dx="0.3" dy="-2.6" font-size="4.4">3</tspan></text>
<text x="54.4" y="291.6" font-size="6.3" text-anchor="end" stroke="#000" stroke-width="0.42">10<tspan dx="0.3" dy="-2.6" font-size="4.4">3</tspan></text>
<text x="154.5" y="370.7" font-size="6.3" text-anchor="middle" stroke="#000" stroke-width="0.42">10<tspan dx="0.3" dy="-2.6" font-size="4.4">4</tspan></text>
<text x="54.4" y="270.4" font-size="6.3" text-anchor="end" stroke="#000" stroke-width="0.42">10<tspan dx="0.3" dy="-2.6" font-size="4.4">4</tspan></text>
<text x="74.5" y="261.2" font-size="9.7" text-anchor="start" textLength="26.0" lengthAdjust="spacing" stroke="#000" stroke-width="0.18">PBMC</text>
<path d="M202.4 266.8V361.2M178.0 323.9H272.2" stroke="#484848" stroke-width="1.3" fill="none"/>
<g transform="translate(178 266.5)" filter="url(#bl)" fill="none" stroke="#000" stroke-width="1">
<path d="M37 5h1M73 6h1M15 7h1M44 7h1M50 7h1M11 8h1M46 8h1M49 8h1M47 9h1M51 9h2M66 9h1M1 10h1M43 10h2M46 10h1M62 10h1M37 11h1M44 11h1M48 11h1M50 11h1M53 11h2M43 12h1M45 12h2M48 12h8M58 12h2M33 13h1M38 13h1M44 13h2M48 13h1M51 13h1M53 13h1M56 13h1M58 13h1M60 13h1M21 14h2M32 14h1M45 14h1M55 14h2M58 14h1M61 14h2M65 14h1M6 15h1M25 15h1M33 15h1M36 15h1M38 15h1M40 15h3M60 15h1M64 15h2M26 16h1M28 16h1M36 16h1M38 16h1M40 16h1M42 16h1M61 16h2M64 16h1M22 17h1M24 17h1M35 17h1M38 17h1M61 17h3M0 18h1M18 18h2M22 18h1M33 18h1M61 18h2M64 18h1M14 19h1M21 19h1M27 19h1M31 19h2M34 19h1M36 19h1M58 19h1M60 19h2M9 20h1M20 20h1M23 20h1M25 20h3M29 20h1M31 20h1M34 20h1M36 20h1M61 20h1M63 20h1M3 21h1M21 21h2M27 21h1M29 21h2M32 21h2M35 21h1M40 21h1M19 22h1M27 22h1M30 22h1M34 22h1M37 22h1M62 22h1M1 23h2M17 23h1M22 23h1M25 23h2M28 23h5M34 23h3M64 23h1M5 24h1M7 24h1M9 24h1M15 24h1M17 24h1M19 24h1M21 24h1M26 24h1M32 24h1M35 24h2M59 24h3M63 24h1M0 25h4M5 25h1M15 25h2M22 25h1M28 25h1M30 25h1M33 25h3M61 25h3M0 26h1M2 26h3M8 26h2M15 26h1M19 26h1M23 26h1M61 26h2M65 26h1M3 27h1M5 27h4M11 27h2M16 27h4M21 27h2M25 27h1M27 27h2M30 27h1M32 27h5M0 28h3M7 28h2M10 28h1M15 28h1M17 28h1M19 28h5M25 28h2M34 28h1M36 28h2M61 28h2M64 28h1M0 29h1M4 29h1M6 29h5M13 29h1M16 29h1M20 29h1M22 29h1M26 29h1M28 29h2M31 29h1M34 29h3M63 29h1M4 30h1M10 30h4M15 30h1M19 30h1M21 30h1M25 30h1M29 30h1M33 30h4M38 30h1M75 30h1M0 31h1M7 31h2M10 31h2M13 31h2M18 31h1M20 31h2M24 31h1M26 31h1M29 31h2M32 31h1M34 31h4M60 31h2M63 31h1M2 32h1M7 32h2M10 32h1M22 32h2M25 32h1M28 32h1M32 32h1M37 32h1M39 32h1M41 32h1M61 32h1M63 32h1M66 32h1M9 33h2M15 33h4M26 33h1M28 33h2M31 33h1M34 33h1M36 33h3M40 33h2M55 33h1M59 33h1M2 34h1M10 34h1M12 34h1M15 34h3M23 34h3M27 34h1M31 34h2M37 34h3M43 34h1M45 34h1M54 34h1M57 34h2M60 34h2M15 35h1M18 35h1M20 35h1M25 35h2M33 35h2M36 35h1M39 35h1M41 35h4M46 35h4M57 35h1M59 35h4M11 36h1M13 36h1M16 36h1M21 36h1M24 36h1M27 36h1M29 36h2M34 36h4M39 36h1M43 36h3M48 36h3M52 36h2M1 37h1M9 37h1M13 37h2M23 37h2M31 37h1M34 37h1M40 37h2M44 37h2M47 37h1M51 37h1M55 37h1M57 37h1M59 37h2M62 37h1M0 38h1M12 38h1M16 38h1M18 38h1M21 38h1M23 38h3M30 38h1M38 38h4M47 38h1M49 38h1M51 38h1M53 38h1M60 38h1M62 38h2M67 38h1M0 39h1M14 39h1M19 39h1M21 39h3M28 39h1M35 39h1M39 39h1M41 39h1M45 39h1M53 39h1M56 39h1M62 39h2M3 40h1M9 40h1M12 40h1M15 40h3M22 40h1M27 40h1M31 40h2M37 40h1M42 40h2M46 40h1M49 40h2M54 40h3M61 40h2M65 40h1M17 41h1M22 41h1M24 41h2M28 41h1M34 41h1M39 41h1M43 41h1M45 41h1M49 41h1M52 41h1M54 41h1M58 41h4M63 41h1M65 41h1M13 42h1M18 42h1M22 42h2M27 42h1M30 42h1M35 42h2M40 42h1M45 42h1M50 42h1M52 42h1M54 42h1M57 42h1M60 42h1M18 43h1M23 43h1M26 43h2M31 43h1M34 43h2M39 43h2M43 43h1M47 43h3M55 43h1M57 43h6M64 43h1M13 44h1M15 44h1M23 44h1M25 44h1M28 44h1M30 44h1M33 44h1M42 44h1M44 44h2M47 44h2M51 44h1M53 44h1M55 44h1M58 44h1M66 44h1M17 45h1M20 45h1M26 45h1M29 45h2M32 45h1M35 45h2M41 45h1M48 45h2M56 45h4M61 45h2M12 46h1M17 46h1M26 46h1M29 46h1M33 46h1M36 46h3M41 46h2M44 46h1M46 46h1M48 46h1M50 46h1M52 46h1M54 46h1M59 46h3M63 46h1M65 46h1M15 47h2M19 47h1M21 47h1M25 47h1M28 47h1M30 47h1M34 47h1M39 47h1M43 47h1M45 47h2M49 47h2M52 47h2M58 47h1M62 47h1M14 48h2M20 48h2M23 48h3M28 48h1M36 48h1M39 48h6M47 48h1M51 48h1M54 48h1M56 48h1M59 48h1M21 49h1M23 49h1M25 49h1M28 49h1M33 49h1M43 49h5M50 49h4M55 49h1M62 49h1M8 50h1M15 50h1M24 50h1M26 50h2M29 50h4M37 50h1M45 50h2M48 50h2M52 50h1M54 50h1M57 50h2M60 50h1M62 50h1M66 50h1M12 51h1M16 51h1M19 51h1M23 51h1M27 51h1M29 51h4M37 51h2M42 51h1M46 51h1M51 51h1M56 51h3M60 51h2M4 52h1M10 52h1M21 52h2M26 52h2M32 52h1M36 52h2M39 52h1M41 52h1M44 52h1M46 52h2M57 52h2M60 52h1M63 52h1M69 52h1M12 53h1M17 53h3M27 53h1M33 53h1M35 53h5M42 53h1M44 53h1M47 53h2M51 53h1M55 53h1M57 53h1M60 53h1M64 53h1M0 54h1M12 54h1M17 54h1M21 54h1M24 54h2M28 54h3M33 54h1M37 54h2M41 54h1M49 54h2M54 54h1M61 54h2M14 55h2M18 55h1M21 55h3M34 55h1M37 55h3M45 55h1M47 55h2M50 55h1M56 55h3M61 55h1M65 55h1M67 55h1M3 56h1M6 56h2M9 56h1M11 56h6M18 56h5M24 56h3M30 56h1M33 56h1M35 56h1M39 56h1M41 56h1M44 56h1M47 56h2M52 56h3M58 56h2M0 57h1M2 57h1M5 57h1M11 57h1M13 57h1M15 57h1M17 57h2M20 57h4M26 57h2M34 57h1M36 57h1M39 57h1M47 57h1M50 57h1M53 57h1M56 57h1M58 57h1M60 57h1M4 58h2M8 58h1M12 58h3M18 58h1M26 58h4M35 58h1M39 58h4M44 58h1M46 58h1M49 58h5M55 58h1M57 58h1M59 58h2M63 58h1M65 58h1M3 59h1M6 59h3M10 59h1M14 59h4M19 59h1M22 59h1M24 59h2M27 59h1M29 59h3M36 59h1M38 59h1M40 59h1M42 59h4M47 59h1M51 59h1M53 59h4M58 59h3M1 60h1M5 60h1M8 60h3M15 60h3M22 60h1M25 60h1M27 60h1M29 60h3M34 60h1M38 60h2M45 60h3M49 60h1M51 60h2M56 60h1M60 60h1M66 60h1M0 61h1M4 61h1M8 61h1M12 61h1M15 61h2M18 61h1M20 61h1M22 61h1M24 61h3M29 61h2M33 61h2M37 61h1M39 61h2M45 61h1M47 61h1M51 61h1M55 61h1M62 61h2M65 61h1M71 61h1M10 62h1M13 62h2M17 62h3M21 62h2M25 62h1M29 62h1M33 62h2M36 62h1M38 62h2M45 62h1M48 62h1M50 62h1M52 62h5M58 62h3M5 63h1M7 63h3M11 63h1M13 63h2M18 63h6M25 63h1M28 63h5M36 63h3M40 63h1M43 63h1M45 63h2M50 63h2M53 63h1M55 63h2M60 63h1M5 64h1M8 64h1M12 64h1M14 64h1M16 64h2M19 64h1M27 64h4M35 64h2M38 64h3M42 64h1M46 64h1M48 64h3M52 64h2M55 64h3M59 64h3M65 64h1M2 65h1M7 65h1M9 65h1M12 65h1M20 65h1M22 65h1M27 65h4M33 65h1M36 65h6M43 65h3M48 65h1M54 65h2M57 65h4M1 66h1M3 66h1M6 66h1M8 66h3M13 66h2M17 66h1M19 66h1M21 66h2M25 66h6M38 66h1M41 66h1M46 66h1M49 66h1M52 66h1M54 66h2M58 66h4M63 66h1M4 67h1M7 67h1M10 67h2M14 67h1M18 67h1M20 67h1M22 67h1M24 67h1M27 67h2M39 67h3M45 67h1M48 67h1M50 67h2M53 67h1M55 67h1M61 67h1M63 67h1M0 68h1M7 68h1M10 68h1M13 68h1M16 68h1M18 68h1M20 68h3M29 68h3M35 68h3M39 68h2M44 68h1M47 68h4M53 68h2M56 68h1M58 68h1M0 69h1M2 69h1M4 69h2M8 69h1M14 69h1M17 69h2M21 69h1M24 69h3M29 69h1M32 69h6M40 69h2M44 69h4M49 69h1M51 69h1M54 69h1M56 69h3M61 69h1M63 69h2M7 70h1M9 70h2M12 70h5M19 70h1M21 70h4M26 70h3M31 70h1M34 70h1M36 70h5M42 70h2M45 70h1M47 70h1M50 70h1M52 70h1M55 70h2M58 70h1M63 70h1M0 71h1M2 71h1M5 71h5M13 71h2M16 71h2M20 71h2M23 71h4M28 71h2M33 71h4M38 71h1M40 71h1M42 71h1M44 71h4M49 71h3M53 71h2M57 71h1M59 71h1M62 71h1M66 71h1M4 72h1M6 72h2M9 72h1M12 72h2M15 72h1M17 72h1M25 72h1M27 72h1M31 72h4M36 72h5M42 72h7M50 72h2M53 72h5M60 72h1M1 73h2M7 73h3M12 73h1M14 73h9M26 73h5M32 73h2M38 73h1M41 73h1M43 73h1M45 73h1M48 73h2M51 73h1M54 73h2M57 73h1M60 73h1M65 73h1M67 73h1M0 74h1M5 74h1M10 74h1M12 74h1M14 74h1M16 74h3M20 74h2M23 74h1M26 74h1M30 74h2M33 74h2M36 74h1M38 74h1M41 74h4M51 74h1M53 74h1M56 74h1M58 74h3M67 74h1M2 75h1M5 75h1M8 75h4M14 75h2M17 75h1M23 75h5M30 75h2M33 75h1M35 75h1M38 75h1M40 75h4M48 75h1M52 75h2M57 75h2M60 75h3M65 75h1M0 76h1M5 76h2M10 76h1M17 76h2M21 76h3M28 76h2M31 76h2M34 76h1M39 76h4M45 76h3M51 76h1M53 76h3M57 76h1M61 76h1M9 77h2M12 77h2M15 77h1M19 77h2M23 77h4M28 77h1M35 77h1M38 77h3M42 77h3M49 77h1M51 77h2M57 77h1M65 77h1M5 78h3M9 78h3M14 78h1M16 78h1M18 78h3M27 78h2M30 78h1M32 78h3M36 78h1M38 78h1M41 78h3M45 78h1M47 78h2M51 78h2M54 78h3M62 78h1M8 79h2M14 79h1M16 79h1M19 79h4M26 79h2M33 79h2M37 79h1M39 79h1M43 79h2M46 79h2M49 79h3M53 79h4M59 79h1M61 79h1M2 80h1M4 80h1M9 80h2M14 80h3M18 80h1M20 80h1M24 80h2M28 80h1M31 80h2M41 80h2M50 80h2M53 80h3M58 80h1M60 80h1M0 81h1M3 81h1M5 81h1M8 81h1M10 81h5M16 81h1M19 81h2M23 81h1M25 81h4M33 81h1M35 81h1M38 81h1M41 81h1M46 81h1M52 81h1M56 81h2M59 81h2M62 81h1M0 82h1M4 82h1M7 82h4M13 82h2M24 82h1M26 82h1M28 82h6M36 82h5M49 82h3M53 82h1M58 82h3M65 82h1M5 83h1M7 83h1M9 83h3M13 83h1M15 83h3M21 83h1M23 83h1M28 83h1M30 83h1M32 83h1M34 83h1M36 83h2M42 83h3M49 83h1M53 83h1M58 83h1M0 84h1M3 84h1M5 84h1M7 84h2M10 84h2M13 84h1M21 84h1M23 84h3M27 84h1M29 84h1M32 84h1M35 84h2M39 84h1M41 84h1M49 84h1M55 84h2M60 84h1M0 85h2M5 85h3M10 85h1M15 85h2M18 85h2M21 85h4M27 85h1M44 85h1M54 85h2M57 85h2M60 85h1M0 86h1M9 86h1M14 86h1M18 86h1M21 86h1M23 86h2M28 86h1M32 86h1M43 86h1M48 86h1M54 86h1M58 86h1M60 86h1M0 87h1M4 87h4M10 87h4M17 87h2M20 87h1M24 87h2M28 87h4M35 87h2M42 87h3M51 87h3M55 87h1M57 87h1M61 87h1M0 88h4M5 88h3M9 88h3M14 88h1M21 88h1M23 88h1M26 88h2M29 88h3M33 88h1M53 88h1M57 88h1M61 88h1M4 89h1M6 89h5M12 89h2M16 89h3M20 89h1M25 89h1M30 89h1M33 89h1M37 89h2M41 89h1M43 89h1M51 89h1M53 89h1M57 89h1M1 90h3M5 90h2M8 90h2M12 90h1M16 90h4M28 90h2M31 90h1M38 90h1M51 90h1M57 90h1M2 91h3M6 91h1M8 91h1M10 91h1M12 91h1M16 91h3M28 91h1M30 91h1M33 91h1M38 91h1M40 91h1M48 91h2M53 91h1M56 91h1M0 92h1M6 92h1M9 92h1M20 92h1M23 92h1M42 92h1M47 92h1M4 93h1M9 93h2M15 93h1M21 93h2M29 93h1M32 93h2M43 93h1M49 93h1M55 93h1" stroke-opacity="0.5"/>
<path d="M47 12h1M39 13h2M46 13h2M49 13h2M52 13h1M55 13h1M39 14h3M44 14h1M46 14h9M57 14h1M37 15h1M43 15h15M59 15h1M37 16h1M39 16h1M41 16h1M43 16h18M39 17h22M37 18h23M35 19h1M37 19h21M59 19h1M32 20h1M37 20h24M36 21h4M41 21h21M5 22h1M35 22h2M38 22h23M10 23h1M24 23h1M33 23h1M37 23h25M1 24h1M4 24h1M16 24h1M22 24h1M34 24h1M37 24h22M4 25h1M23 25h1M29 25h1M36 25h25M1 26h1M6 26h1M13 26h1M22 26h1M26 26h2M33 26h3M37 26h24M0 27h3M4 27h1M9 27h1M31 27h1M37 27h24M3 28h2M6 28h1M12 28h1M24 28h1M35 28h1M38 28h23M1 29h3M5 29h1M12 29h1M21 29h1M25 29h1M37 29h24M0 30h4M5 30h2M8 30h2M18 30h1M24 30h1M26 30h1M28 30h1M30 30h1M39 30h22M1 31h6M9 31h1M15 31h1M19 31h1M22 31h1M25 31h1M27 31h2M38 31h22M0 32h2M3 32h4M9 32h1M11 32h2M15 32h1M17 32h2M24 32h1M26 32h1M29 32h3M33 32h3M38 32h1M40 32h1M42 32h18M0 33h9M11 33h3M19 33h5M25 33h1M27 33h1M30 33h1M32 33h2M35 33h1M39 33h1M42 33h13M56 33h3M0 34h2M3 34h7M11 34h1M13 34h2M19 34h4M26 34h1M28 34h3M33 34h1M35 34h1M40 34h3M44 34h1M46 34h8M55 34h2M59 34h1M0 35h15M16 35h2M19 35h1M21 35h2M24 35h1M27 35h5M35 35h1M37 35h2M40 35h1M50 35h7M58 35h1M0 36h11M12 36h1M14 36h2M17 36h4M22 36h2M25 36h2M28 36h1M31 36h3M40 36h1M46 36h2M51 36h1M54 36h7M0 37h1M2 37h7M10 37h3M15 37h8M25 37h6M32 37h2M35 37h5M42 37h1M48 37h3M52 37h3M56 37h1M58 37h1M61 37h1M1 38h11M13 38h3M19 38h2M22 38h1M26 38h4M31 38h1M33 38h5M42 38h2M46 38h1M48 38h1M50 38h1M52 38h1M54 38h6M61 38h1M1 39h13M16 39h2M20 39h1M24 39h4M29 39h4M34 39h1M36 39h3M40 39h1M42 39h3M46 39h4M51 39h2M54 39h2M57 39h2M60 39h1M0 40h3M4 40h5M10 40h2M13 40h2M18 40h4M23 40h4M28 40h3M33 40h4M38 40h4M44 40h2M47 40h1M51 40h1M53 40h1M57 40h3M0 41h17M18 41h4M23 41h1M26 41h1M29 41h5M35 41h2M41 41h2M44 41h1M46 41h3M50 41h2M56 41h1M0 42h13M14 42h4M19 42h3M24 42h3M28 42h2M31 42h2M34 42h1M37 42h3M41 42h4M46 42h3M51 42h1M53 42h1M55 42h1M58 42h2M0 43h18M20 43h3M24 43h2M28 43h3M32 43h2M36 43h3M41 43h2M44 43h3M51 43h1M54 43h1M56 43h1M0 44h13M14 44h1M16 44h7M24 44h1M26 44h2M29 44h1M32 44h1M34 44h5M40 44h2M43 44h1M46 44h1M49 44h2M52 44h1M54 44h1M56 44h2M60 44h2M63 44h1M0 45h17M18 45h2M21 45h5M27 45h2M31 45h1M33 45h2M37 45h4M42 45h6M50 45h6M60 45h1M0 46h12M13 46h4M18 46h6M25 46h1M27 46h2M30 46h3M34 46h2M39 46h2M43 46h1M45 46h1M47 46h1M49 46h1M51 46h1M53 46h1M55 46h4M0 47h15M17 47h2M20 47h1M22 47h3M26 47h2M29 47h1M31 47h2M35 47h4M40 47h2M47 47h1M54 47h4M59 47h2M0 48h14M16 48h4M22 48h1M27 48h1M29 48h7M38 48h1M45 48h2M48 48h3M52 48h2M55 48h1M57 48h2M60 48h1M0 49h17M18 49h3M22 49h1M24 49h1M26 49h2M29 49h4M35 49h8M48 49h2M54 49h1M57 49h5M0 50h8M9 50h4M14 50h1M16 50h8M25 50h1M28 50h1M33 50h4M38 50h3M42 50h3M47 50h1M50 50h2M53 50h1M56 50h1M59 50h1M61 50h1M0 51h12M13 51h3M17 51h2M20 51h3M24 51h3M28 51h1M33 51h4M39 51h3M43 51h3M47 51h4M52 51h4M59 51h1M0 52h4M5 52h5M11 52h9M23 52h3M28 52h4M33 52h3M38 52h1M40 52h1M42 52h2M45 52h1M48 52h9M61 52h1M0 53h12M13 53h4M20 53h4M25 53h2M28 53h5M34 53h1M40 53h2M43 53h1M45 53h2M49 53h2M52 53h3M56 53h1M58 53h2M61 53h1M1 54h11M13 54h4M18 54h3M22 54h1M26 54h2M31 54h2M34 54h3M39 54h2M42 54h7M51 54h3M55 54h2M58 54h2M0 55h14M16 55h2M19 55h1M24 55h2M28 55h2M31 55h3M36 55h1M40 55h1M42 55h3M46 55h1M49 55h1M52 55h4M59 55h2M0 56h3M4 56h2M8 56h1M10 56h1M17 56h1M23 56h1M28 56h2M31 56h2M34 56h1M38 56h1M40 56h1M42 56h2M46 56h1M49 56h1M55 56h3M1 57h1M3 57h2M6 57h5M12 57h1M14 57h1M16 57h1M19 57h1M24 57h1M28 57h2M31 57h3M35 57h1M37 57h1M41 57h2M45 57h1M48 57h2M51 57h1M55 57h1M59 57h1M61 57h1M0 58h4M6 58h1M9 58h2M19 58h2M24 58h1M31 58h1M33 58h1M36 58h1M45 58h1M48 58h1M54 58h1M58 58h1M0 59h3M4 59h2M9 59h1M11 59h1M23 59h1M28 59h1M32 59h1M35 59h1M41 59h1M0 60h1M2 60h3M6 60h2M24 60h1M26 60h1M28 60h1M33 60h1M40 60h1M43 60h2M48 60h1M53 60h3M58 60h2M1 61h3M5 61h1M7 61h1M10 61h2M13 61h1M17 61h1M19 61h1M23 61h1M38 61h1M43 61h2M57 61h1M0 62h7M8 62h1M20 62h1M23 62h1M31 62h1M40 62h2M43 62h1M0 63h5M6 63h1M10 63h1M12 63h1M26 63h2M34 63h1M41 63h2M47 63h1M58 63h2M0 64h4M6 64h2M9 64h1M13 64h1M15 64h1M21 64h1M24 64h2M31 64h3M44 64h1M58 64h1M0 65h2M3 65h4M8 65h1M14 65h5M23 65h1M26 65h1M31 65h2M42 65h1M47 65h1M49 65h1M51 65h1M56 65h1M61 65h1M0 66h1M2 66h1M4 66h2M7 66h1M12 66h1M31 66h1M33 66h1M35 66h1M37 66h1M39 66h2M42 66h1M44 66h1M47 66h1M53 66h1M56 66h2M0 67h4M5 67h2M8 67h1M13 67h1M15 67h3M19 67h1M21 67h1M23 67h1M26 67h1M30 67h2M34 67h2M37 67h1M42 67h1M56 67h1M58 67h2M1 68h6M8 68h2M12 68h1M15 68h1M19 68h1M41 68h1M52 68h1M57 68h1M59 68h2M1 69h1M3 69h1M6 69h2M11 69h3M15 69h2M27 69h1M39 69h1M43 69h1M50 69h1M55 69h1M59 69h2M0 70h7M8 70h1M11 70h1M18 70h1M25 70h1M29 70h1M32 70h2M35 70h1M41 70h1M46 70h1M53 70h1M57 70h1M59 70h2M1 71h1M3 71h2M10 71h1M12 71h1M15 71h1M18 71h2M27 71h1M31 71h2M37 71h1M39 71h1M41 71h1M43 71h1M55 71h1M58 71h1M64 71h1M1 72h3M5 72h1M11 72h1M14 72h1M18 72h3M26 72h1M35 72h1M41 72h1M52 72h1M59 72h1M0 73h1M3 73h4M11 73h1M13 73h1M25 73h1M31 73h1M34 73h2M37 73h1M39 73h2M42 73h1M50 73h1M53 73h1M56 73h1M58 73h2M66 73h1M1 74h4M6 74h1M8 74h2M11 74h1M15 74h1M37 74h1M39 74h1M54 74h2M0 75h2M3 75h2M6 75h2M12 75h1M16 75h1M28 75h1M32 75h1M34 75h1M36 75h1M39 75h1M46 75h1M51 75h1M54 75h3M59 75h1M1 76h4M7 76h3M11 76h2M19 76h2M24 76h2M33 76h1M35 76h2M38 76h1M43 76h2M49 76h2M56 76h1M58 76h1M60 76h1M0 77h8M11 77h1M14 77h1M16 77h1M18 77h1M22 77h1M27 77h1M53 77h1M56 77h1M58 77h3M0 78h5M8 78h1M12 78h2M17 78h1M21 78h1M23 78h4M40 78h1M53 78h1M57 78h4M0 79h2M3 79h2M6 79h1M11 79h3M15 79h1M18 79h1M24 79h1M29 79h1M35 79h1M41 79h1M57 79h2M0 80h2M3 80h1M5 80h3M12 80h2M17 80h1M19 80h1M21 80h1M29 80h1M38 80h1M46 80h1M56 80h2M59 80h1M1 81h2M6 81h2M9 81h1M15 81h1M18 81h1M21 81h1M48 81h1M53 81h3M58 81h1M1 82h3M5 82h2M12 82h1M16 82h5M55 82h3M0 83h3M4 83h1M6 83h1M8 83h1M12 83h1M56 83h2M1 84h2M4 84h1M6 84h1M9 84h1M14 84h1M17 84h4M2 85h3M8 85h2M11 85h1M20 85h1M59 85h1M1 86h3M5 86h4M10 86h2M16 86h1M19 86h1M37 86h1M59 86h1M1 87h1M3 87h1M8 87h2M15 87h2M27 87h1M4 88h1M12 88h1M16 88h2M19 88h1M2 89h1M5 89h1M19 89h1M23 89h1M52 89h1M0 90h1M4 90h1M11 90h1M1 91h1M9 91h1M2 92h2M11 92h1M24 92h1M51 92h1"/>
</g>
<path d="M177.4 265.59999999999997V361.2H273.1" stroke="#000" stroke-width="1.15" fill="none"/>
<path d="M178.0 359.59999999999997v3.2M175.8 361.2h3.2M201.7 359.59999999999997v3.2M175.8 337.4h3.2M225.4 359.59999999999997v3.2M175.8 313.7h3.2M249.1 359.59999999999997v3.2M175.8 289.9h3.2M272.8 359.59999999999997v3.2M175.8 266.2h3.2M185.1 360.2v2.0M176.4 354.1h2.0M189.3 360.2v2.0M176.4 349.9h2.0M192.3 360.2v2.0M176.4 346.9h2.0M194.6 360.2v2.0M176.4 344.6h2.0M196.4 360.2v2.0M176.4 342.7h2.0M199.4 360.2v2.0M176.4 339.8h2.0M208.8 360.2v2.0M176.4 330.3h2.0M213.0 360.2v2.0M176.4 326.1h2.0M216.0 360.2v2.0M176.4 323.2h2.0M218.3 360.2v2.0M176.4 320.8h2.0M220.1 360.2v2.0M176.4 319.0h2.0M223.1 360.2v2.0M176.4 316.0h2.0M232.5 360.2v2.0M176.4 306.6h2.0M236.7 360.2v2.0M176.4 302.4h2.0M239.7 360.2v2.0M176.4 299.4h2.0M242.0 360.2v2.0M176.4 297.1h2.0M243.8 360.2v2.0M176.4 295.2h2.0M246.8 360.2v2.0M176.4 292.3h2.0M256.2 360.2v2.0M176.4 282.8h2.0M260.4 360.2v2.0M176.4 278.6h2.0M263.4 360.2v2.0M176.4 275.7h2.0M265.7 360.2v2.0M176.4 273.3h2.0M267.5 360.2v2.0M176.4 271.5h2.0M270.5 360.2v2.0M176.4 268.5h2.0" stroke="#000" stroke-width="0.7" fill="none"/>
<text x="178.9" y="370.7" font-size="6.3" text-anchor="middle" stroke="#000" stroke-width="0.42">10<tspan dx="0.3" dy="-2.6" font-size="4.4">0</tspan></text>
<text x="202.6" y="370.7" font-size="6.3" text-anchor="middle" stroke="#000" stroke-width="0.42">10<tspan dx="0.3" dy="-2.6" font-size="4.4">1</tspan></text>
<text x="173.6" y="339.1" font-size="6.3" text-anchor="end" stroke="#000" stroke-width="0.42">10<tspan dx="0.3" dy="-2.6" font-size="4.4">1</tspan></text>
<text x="226.3" y="370.7" font-size="6.3" text-anchor="middle" stroke="#000" stroke-width="0.42">10<tspan dx="0.3" dy="-2.6" font-size="4.4">2</tspan></text>
<text x="173.6" y="315.3" font-size="6.3" text-anchor="end" stroke="#000" stroke-width="0.42">10<tspan dx="0.3" dy="-2.6" font-size="4.4">2</tspan></text>
<text x="250.0" y="370.7" font-size="6.3" text-anchor="middle" stroke="#000" stroke-width="0.42">10<tspan dx="0.3" dy="-2.6" font-size="4.4">3</tspan></text>
<text x="173.6" y="291.6" font-size="6.3" text-anchor="end" stroke="#000" stroke-width="0.42">10<tspan dx="0.3" dy="-2.6" font-size="4.4">3</tspan></text>
<text x="273.7" y="370.7" font-size="6.3" text-anchor="middle" stroke="#000" stroke-width="0.42">10<tspan dx="0.3" dy="-2.6" font-size="4.4">4</tspan></text>
<text x="173.6" y="270.4" font-size="6.3" text-anchor="end" stroke="#000" stroke-width="0.42">10<tspan dx="0.3" dy="-2.6" font-size="4.4">4</tspan></text>
<text x="191.3" y="261.2" font-size="9.7" text-anchor="start" textLength="62.5" lengthAdjust="spacing" stroke="#000" stroke-width="0.18">CD19 depleted</text>
<path d="M327.0 266.8V361.2M301.2 324.4H395.4" stroke="#484848" stroke-width="1.3" fill="none"/>
<g transform="translate(301 266.5)" filter="url(#bl)" fill="none" stroke="#000" stroke-width="1">
<path d="M61 0h1M38 3h1M69 3h1M41 4h1M66 5h1M48 6h1M52 6h1M65 6h1M46 8h1M48 8h1M43 9h1M48 9h1M39 11h1M42 11h1M58 11h1M63 11h2M41 12h1M50 12h1M53 12h2M62 12h1M65 12h1M8 13h1M25 13h1M50 13h1M58 13h1M61 13h1M63 13h1M0 14h2M44 14h1M47 14h1M50 14h1M53 14h1M56 14h1M58 14h4M63 14h2M1 15h1M3 15h1M6 15h1M11 15h1M14 15h1M22 15h1M38 15h1M55 15h3M67 15h1M0 16h1M4 16h2M17 16h2M28 16h1M41 16h2M53 16h2M56 16h1M58 16h1M61 16h3M67 16h1M0 17h1M6 17h1M10 17h3M31 17h1M35 17h1M38 17h1M40 17h1M49 17h2M52 17h2M57 17h1M59 17h2M64 17h1M1 18h2M4 18h1M8 18h1M10 18h1M26 18h1M28 18h1M44 18h1M47 18h1M50 18h1M52 18h1M55 18h3M59 18h1M61 18h1M63 18h1M65 18h2M68 18h1M0 19h4M5 19h1M7 19h2M22 19h1M26 19h1M39 19h1M48 19h2M51 19h1M53 19h2M57 19h2M60 19h2M64 19h1M0 20h1M5 20h1M7 20h2M12 20h1M17 20h1M31 20h1M35 20h1M50 20h1M52 20h1M54 20h1M63 20h1M65 20h1M0 21h1M2 21h1M4 21h1M6 21h1M11 21h1M13 21h2M19 21h2M24 21h1M36 21h1M40 21h1M47 21h1M49 21h1M51 21h2M54 21h1M57 21h1M61 21h2M0 22h2M5 22h1M9 22h2M14 22h1M16 22h1M20 22h1M22 22h1M29 22h1M32 22h1M36 22h1M39 22h2M42 22h4M50 22h1M53 22h1M61 22h2M64 22h1M71 22h1M0 23h1M7 23h1M12 23h1M16 23h1M20 23h1M23 23h1M25 23h3M30 23h2M40 23h1M42 23h1M44 23h1M48 23h4M53 23h2M58 23h1M63 23h1M0 24h1M8 24h1M12 24h2M21 24h1M25 24h2M28 24h1M32 24h1M35 24h1M37 24h1M39 24h3M46 24h4M64 24h1M4 25h1M13 25h3M17 25h1M19 25h1M22 25h1M24 25h2M27 25h2M31 25h1M33 25h2M36 25h1M38 25h1M41 25h1M44 25h4M63 25h2M3 26h1M14 26h1M17 26h7M26 26h2M30 26h3M37 26h2M44 26h1M46 26h1M48 26h1M62 26h2M66 26h1M15 27h2M21 27h2M24 27h2M30 27h2M33 27h1M36 27h1M39 27h1M41 27h2M51 27h2M63 27h1M66 27h1M71 27h1M18 28h2M21 28h1M25 28h1M30 28h2M33 28h5M39 28h1M44 28h2M60 28h1M65 28h1M11 29h1M14 29h1M18 29h1M20 29h3M26 29h3M30 29h2M36 29h1M38 29h1M62 29h1M64 29h1M15 30h2M29 30h1M33 30h1M36 30h1M39 30h1M46 30h1M62 30h1M65 30h1M67 30h2M18 31h2M23 31h1M25 31h1M28 31h1M31 31h1M34 31h3M40 31h1M42 31h1M48 31h1M64 31h2M70 31h1M0 32h1M15 32h1M21 32h1M23 32h1M26 32h1M28 32h1M40 32h1M46 32h1M62 32h6M11 33h1M16 33h2M20 33h2M28 33h1M32 33h1M35 33h1M61 33h1M63 33h3M22 34h1M27 34h2M31 34h1M37 34h1M41 34h1M21 35h1M23 35h1M25 35h1M35 35h1M37 35h1M48 35h1M65 35h1M4 36h1M37 36h2M42 36h1M45 36h2M67 36h1M26 37h1M29 37h1M38 37h3M62 37h1M75 37h1M31 38h1M41 38h1M44 38h1M61 38h5M0 39h1M33 39h1M37 39h1M40 39h1M42 39h1M44 39h1M62 39h1M23 40h1M25 40h1M28 40h1M34 40h1M37 40h1M42 40h2M48 40h1M50 40h1M63 40h2M67 40h1M25 41h1M27 41h3M33 41h1M35 41h1M38 41h1M40 41h1M45 41h1M47 41h1M52 41h1M62 41h3M18 42h1M33 42h3M38 42h1M48 42h1M52 42h1M62 42h3M23 43h1M36 43h1M38 43h1M48 43h1M60 43h1M66 43h1M68 43h1M21 44h1M23 44h1M37 44h1M39 44h1M44 44h1M62 44h1M64 44h2M23 45h1M27 45h2M42 45h1M52 45h1M62 45h3M21 46h1M26 46h1M32 46h1M36 46h1M38 46h1M41 46h1M62 46h1M19 47h1M31 47h1M34 47h1M41 47h1M64 47h1M26 48h1M34 48h2M65 48h1M67 48h1M20 49h2M25 49h1M28 49h1M30 49h1M32 49h1M35 49h2M41 49h1M47 49h1M62 49h1M64 49h1M20 50h1M22 50h5M30 50h1M34 50h1M36 50h3M42 50h2M47 50h1M66 50h1M18 51h1M25 51h1M32 51h1M36 51h6M45 51h1M49 51h1M54 51h1M62 51h4M68 51h1M20 52h1M23 52h3M28 52h1M33 52h1M37 52h2M40 52h1M42 52h1M52 52h1M63 52h2M20 53h1M23 53h1M26 53h2M36 53h1M39 53h1M41 53h1M44 53h1M47 53h1M50 53h2M24 54h1M28 54h3M32 54h1M37 54h2M45 54h1M48 54h2M19 55h1M27 55h2M37 55h1M39 55h2M42 55h3M47 55h1M49 55h2M52 55h1M54 55h1M66 55h1M3 56h1M11 56h2M15 56h1M18 56h1M20 56h2M24 56h1M26 56h7M36 56h3M40 56h1M43 56h2M46 56h2M51 56h1M62 56h1M3 57h2M11 57h3M19 57h1M22 57h1M25 57h6M41 57h2M45 57h1M47 57h2M50 57h3M54 57h2M57 57h1M60 57h1M63 57h1M65 57h1M1 58h1M8 58h2M11 58h2M14 58h4M19 58h1M22 58h2M25 58h4M34 58h1M36 58h1M41 58h1M43 58h2M46 58h3M50 58h2M53 58h1M58 58h2M61 58h1M64 58h1M0 59h1M5 59h1M8 59h2M11 59h4M18 59h1M21 59h1M23 59h1M27 59h1M29 59h1M34 59h1M37 59h1M40 59h1M46 59h1M49 59h2M54 59h1M56 59h2M60 59h1M62 59h1M66 59h1M68 59h1M2 60h5M8 60h1M10 60h6M19 60h2M22 60h1M26 60h1M28 60h1M32 60h3M37 60h3M44 60h1M48 60h1M50 60h2M53 60h1M56 60h3M62 60h1M65 60h1M2 61h2M5 61h1M9 61h2M14 61h1M18 61h1M20 61h3M24 61h2M27 61h4M33 61h1M36 61h2M39 61h1M42 61h1M44 61h1M47 61h2M51 61h3M55 61h1M57 61h2M64 61h1M66 61h2M6 62h1M8 62h2M15 62h4M23 62h1M25 62h1M30 62h2M37 62h2M41 62h1M44 62h2M47 62h2M51 62h1M60 62h4M67 62h1M1 63h1M5 63h1M9 63h2M12 63h2M15 63h1M17 63h4M22 63h2M26 63h3M31 63h1M33 63h1M36 63h5M42 63h1M44 63h2M47 63h3M51 63h3M55 63h1M59 63h1M1 64h2M6 64h1M8 64h1M10 64h1M12 64h2M17 64h6M26 64h4M31 64h1M33 64h1M35 64h2M40 64h1M45 64h1M48 64h1M58 64h2M61 64h2M0 65h1M6 65h1M8 65h1M10 65h2M15 65h4M21 65h1M23 65h4M28 65h6M36 65h2M39 65h1M42 65h2M46 65h3M55 65h3M63 65h2M2 66h1M6 66h2M12 66h1M17 66h1M23 66h1M25 66h2M28 66h2M36 66h2M41 66h1M44 66h1M50 66h1M52 66h4M61 66h1M63 66h1M2 67h1M6 67h1M8 67h2M11 67h1M15 67h1M17 67h4M23 67h4M28 67h1M30 67h2M33 67h2M37 67h2M40 67h1M44 67h3M48 67h4M53 67h1M59 67h1M61 67h1M64 67h1M66 67h1M6 68h1M10 68h1M14 68h1M17 68h1M19 68h1M22 68h2M27 68h1M29 68h3M33 68h1M35 68h1M40 68h1M44 68h2M48 68h1M51 68h1M54 68h1M57 68h1M63 68h2M66 68h1M6 69h1M9 69h2M13 69h4M18 69h1M20 69h3M25 69h1M27 69h1M29 69h1M31 69h1M33 69h1M35 69h2M38 69h1M41 69h1M44 69h1M47 69h1M51 69h3M58 69h1M61 69h2M0 70h1M7 70h2M10 70h4M19 70h2M22 70h2M25 70h2M29 70h1M37 70h3M44 70h1M48 70h3M55 70h2M58 70h1M60 70h2M65 70h1M9 71h1M11 71h2M15 71h3M20 71h3M25 71h2M28 71h1M34 71h5M46 71h1M50 71h1M53 71h3M58 71h1M60 71h1M63 71h1M68 71h1M7 72h1M9 72h1M12 72h1M14 72h1M17 72h2M23 72h2M27 72h4M32 72h1M34 72h2M40 72h3M47 72h1M49 72h1M51 72h3M56 72h1M58 72h1M61 72h4M6 73h1M11 73h3M19 73h1M21 73h1M23 73h1M34 73h5M42 73h2M48 73h1M54 73h2M59 73h1M62 73h4M67 73h1M8 74h2M12 74h2M15 74h1M19 74h1M25 74h3M29 74h3M33 74h2M38 74h2M41 74h1M43 74h1M45 74h1M48 74h1M50 74h2M53 74h2M61 74h1M63 74h1M7 75h1M11 75h2M14 75h1M16 75h2M20 75h1M22 75h2M25 75h1M27 75h1M31 75h3M38 75h4M43 75h1M47 75h1M50 75h1M53 75h2M58 75h2M61 75h2M64 75h1M7 76h2M12 76h1M16 76h2M24 76h2M28 76h2M33 76h2M36 76h3M40 76h3M49 76h1M52 76h2M61 76h1M64 76h1M67 76h1M10 77h5M17 77h2M20 77h4M26 77h1M29 77h2M34 77h4M39 77h1M49 77h2M52 77h2M58 77h1M61 77h1M63 77h2M66 77h1M9 78h1M13 78h2M16 78h1M18 78h5M24 78h2M28 78h2M31 78h1M33 78h1M36 78h1M38 78h1M41 78h1M44 78h2M49 78h1M54 78h1M62 78h2M5 79h1M7 79h1M10 79h2M14 79h1M16 79h3M20 79h3M25 79h3M29 79h3M34 79h2M39 79h1M41 79h4M46 79h1M52 79h2M55 79h1M57 79h1M59 79h1M63 79h1M11 80h3M15 80h3M22 80h1M26 80h1M31 80h2M37 80h1M42 80h1M45 80h1M47 80h1M49 80h1M51 80h1M53 80h1M55 80h3M61 80h2M20 81h2M25 81h2M36 81h1M40 81h1M43 81h1M48 81h3M52 81h1M54 81h1M56 81h3M60 81h1M62 81h2M6 82h1M8 82h1M12 82h1M20 82h1M23 82h2M28 82h2M31 82h1M33 82h2M36 82h3M40 82h1M43 82h1M46 82h1M48 82h1M52 82h2M55 82h4M60 82h1M66 82h1M14 83h1M18 83h1M22 83h1M24 83h2M34 83h2M42 83h1M49 83h1M52 83h1M55 83h2M61 83h2M65 83h2M14 84h1M17 84h1M19 84h2M22 84h3M27 84h1M32 84h2M35 84h1M40 84h1M45 84h1M49 84h2M52 84h3M59 84h1M61 84h2M64 84h2M9 85h3M17 85h3M21 85h1M23 85h1M30 85h1M34 85h1M36 85h2M44 85h1M48 85h4M54 85h2M57 85h1M59 85h1M62 85h1M11 86h1M14 86h1M16 86h1M19 86h4M29 86h2M34 86h1M36 86h1M46 86h1M49 86h2M53 86h4M59 86h1M66 86h1M8 87h1M16 87h1M19 87h2M23 87h1M25 87h4M31 87h1M35 87h1M37 87h1M40 87h1M46 87h1M49 87h1M51 87h2M55 87h4M61 87h2M13 88h2M23 88h2M26 88h1M32 88h1M34 88h2M41 88h2M44 88h1M47 88h1M52 88h4M57 88h1M59 88h1M61 88h2M9 89h2M17 89h1M19 89h2M23 89h1M31 89h1M42 89h2M47 89h2M53 89h1M55 89h1M59 89h1M62 89h1M12 90h1M15 90h2M18 90h2M22 90h1M24 90h4M31 90h1M37 90h1M41 90h1M46 90h1M49 90h2M55 90h1M59 90h2M62 90h1M3 91h2M7 91h1M10 91h1M12 91h2M19 91h3M29 91h1M42 91h2M48 91h2M59 91h1M0 92h1M2 92h1M4 92h2M7 92h1M10 92h1M12 92h2M15 92h1M18 92h3M22 92h3M27 92h1M32 92h1M36 92h1M47 92h1M53 92h1M55 92h1M57 92h2M60 92h2M63 92h2M0 93h1M2 93h2M5 93h1M7 93h1M11 93h1M13 93h1M19 93h1M21 93h1M25 93h2M35 93h1M49 93h1M52 93h1M59 93h2M63 93h1" stroke-opacity="0.5"/>
<path d="M58 15h1M57 16h1M54 17h1M56 17h1M58 17h1M61 17h1M51 18h1M58 18h1M60 18h1M62 18h1M4 19h1M55 19h2M62 19h1M1 20h4M6 20h1M9 20h1M46 20h1M48 20h1M51 20h1M53 20h1M55 20h8M1 21h1M3 21h1M5 21h1M7 21h2M10 21h1M48 21h1M53 21h1M55 21h2M58 21h3M66 21h1M2 22h3M6 22h1M8 22h1M26 22h1M54 22h7M63 22h1M1 23h6M8 23h4M13 23h1M18 23h2M52 23h1M55 23h3M59 23h1M61 23h2M1 24h7M9 24h3M31 24h1M42 24h1M50 24h1M52 24h10M63 24h1M0 25h4M5 25h8M18 25h1M23 25h1M26 25h1M37 25h1M39 25h1M43 25h1M48 25h15M0 26h3M4 26h10M16 26h1M24 26h1M28 26h2M34 26h2M39 26h1M41 26h2M49 26h2M52 26h10M0 27h14M17 27h4M23 27h1M29 27h1M32 27h1M34 27h1M37 27h2M40 27h1M44 27h1M46 27h5M53 27h10M64 27h1M0 28h18M22 28h3M26 28h4M32 28h1M40 28h4M46 28h14M61 28h2M0 29h11M12 29h2M15 29h3M19 29h1M23 29h3M29 29h1M32 29h4M39 29h23M0 30h15M17 30h12M30 30h1M32 30h1M34 30h1M37 30h2M40 30h6M47 30h15M63 30h2M0 31h18M21 31h2M26 31h2M29 31h2M32 31h2M37 31h3M41 31h1M43 31h5M49 31h15M1 32h14M16 32h5M22 32h1M24 32h2M27 32h1M29 32h2M32 32h8M41 32h5M47 32h15M0 33h11M12 33h4M18 33h2M22 33h6M29 33h3M33 33h2M36 33h25M62 33h1M0 34h22M23 34h4M29 34h2M32 34h5M38 34h3M42 34h21M0 35h21M22 35h1M24 35h1M27 35h8M36 35h1M38 35h5M44 35h4M49 35h15M0 36h4M5 36h32M39 36h3M43 36h2M47 36h17M0 37h26M27 37h1M30 37h8M41 37h21M63 37h2M0 38h31M32 38h1M34 38h7M42 38h2M45 38h16M1 39h32M34 39h3M38 39h2M41 39h1M43 39h1M45 39h17M63 39h1M0 40h23M24 40h1M26 40h2M29 40h5M35 40h2M38 40h4M44 40h4M49 40h1M51 40h12M0 41h25M26 41h1M30 41h3M34 41h1M36 41h2M39 41h1M41 41h4M46 41h1M48 41h4M53 41h9M0 42h18M19 42h14M36 42h2M39 42h9M49 42h3M53 42h9M0 43h23M24 43h12M37 43h1M39 43h9M49 43h11M61 43h1M64 43h2M0 44h21M22 44h1M24 44h13M38 44h1M40 44h4M45 44h17M0 45h23M24 45h3M29 45h13M43 45h9M53 45h9M65 45h1M0 46h21M22 46h4M27 46h5M33 46h3M37 46h1M40 46h1M42 46h20M0 47h19M20 47h11M32 47h2M35 47h5M42 47h5M48 47h16M0 48h26M27 48h7M36 48h27M64 48h1M0 49h20M22 49h3M26 49h2M29 49h1M31 49h1M34 49h1M37 49h4M42 49h5M48 49h14M63 49h1M0 50h20M21 50h1M27 50h3M31 50h1M35 50h1M39 50h3M44 50h3M48 50h15M0 51h18M19 51h4M24 51h1M26 51h6M33 51h3M42 51h3M46 51h3M50 51h4M55 51h7M0 52h20M21 52h2M26 52h2M29 52h4M34 52h1M36 52h1M39 52h1M41 52h1M43 52h9M53 52h10M0 53h20M21 53h2M25 53h1M28 53h8M37 53h2M40 53h1M42 53h1M46 53h1M48 53h2M52 53h11M0 54h24M25 54h3M31 54h1M34 54h3M39 54h6M46 54h2M50 54h13M0 55h19M20 55h7M29 55h1M31 55h3M35 55h2M38 55h1M41 55h1M45 55h2M48 55h1M51 55h1M53 55h1M55 55h10M0 56h3M4 56h7M13 56h2M16 56h2M19 56h1M22 56h2M25 56h1M33 56h3M41 56h2M48 56h3M52 56h10M0 57h3M5 57h5M14 57h5M20 57h2M23 57h2M31 57h1M33 57h1M36 57h3M43 57h2M53 57h1M56 57h1M58 57h2M61 57h2M0 58h1M2 58h2M5 58h3M10 58h1M13 58h1M29 58h2M32 58h1M35 58h1M37 58h2M49 58h1M54 58h4M60 58h1M62 58h2M1 59h4M6 59h2M16 59h1M36 59h1M53 59h1M58 59h2M61 59h1M64 59h1M0 60h2M7 60h1M24 60h1M29 60h1M45 60h1M54 60h1M59 60h3M0 61h2M4 61h1M6 61h1M23 61h1M59 61h5M0 62h6M7 62h1M11 62h1M14 62h1M22 62h1M39 62h1M43 62h1M52 62h1M54 62h6M64 62h1M0 63h1M2 63h3M6 63h3M11 63h1M14 63h1M54 63h1M56 63h3M60 63h3M0 64h1M3 64h3M7 64h1M11 64h1M15 64h1M32 64h1M49 64h1M53 64h5M60 64h1M1 65h5M7 65h1M9 65h1M13 65h1M19 65h2M22 65h1M35 65h1M40 65h1M45 65h1M49 65h2M53 65h2M58 65h5M0 66h2M3 66h3M8 66h4M13 66h4M20 66h1M22 66h1M30 66h1M32 66h1M35 66h1M40 66h1M57 66h4M62 66h1M0 67h2M3 67h1M5 67h1M7 67h1M12 67h3M16 67h1M21 67h2M29 67h1M52 67h1M54 67h5M60 67h1M62 67h1M0 68h6M7 68h3M11 68h2M15 68h2M18 68h1M20 68h2M25 68h2M28 68h1M49 68h2M53 68h1M56 68h1M58 68h2M61 68h2M0 69h6M7 69h2M11 69h2M24 69h1M39 69h1M43 69h1M49 69h2M54 69h1M56 69h2M59 69h2M63 69h1M1 70h6M9 70h1M15 70h1M18 70h1M24 70h1M27 70h1M32 70h2M54 70h1M57 70h1M59 70h1M62 70h1M0 71h9M10 71h1M13 71h2M29 71h1M31 71h1M39 71h1M42 71h2M57 71h1M59 71h1M61 71h2M0 72h7M8 72h1M10 72h2M13 72h1M15 72h2M20 72h2M39 72h1M43 72h1M45 72h1M55 72h1M57 72h1M59 72h2M0 73h6M7 73h4M14 73h5M22 73h1M28 73h1M56 73h3M61 73h1M0 74h8M10 74h1M14 74h1M16 74h2M21 74h2M49 74h1M52 74h1M57 74h4M62 74h1M0 75h7M8 75h3M13 75h1M19 75h1M35 75h2M42 75h1M44 75h1M49 75h1M55 75h3M60 75h1M0 76h7M9 76h3M13 76h1M15 76h1M18 76h4M44 76h1M47 76h1M55 76h6M62 76h1M0 77h10M15 77h2M27 77h1M31 77h1M38 77h1M47 77h2M55 77h3M59 77h2M62 77h1M0 78h9M10 78h3M15 78h1M58 78h4M64 78h1M0 79h5M6 79h1M8 79h2M12 79h2M15 79h1M54 79h1M56 79h1M58 79h1M60 79h1M62 79h1M0 80h11M14 80h1M19 80h1M23 80h1M35 80h2M39 80h1M46 80h1M54 80h1M58 80h2M64 80h1M0 81h18M19 81h1M41 81h1M53 81h1M55 81h1M59 81h1M61 81h1M0 82h6M7 82h1M10 82h2M13 82h1M15 82h2M19 82h1M21 82h1M54 82h1M59 82h1M61 82h2M0 83h14M15 83h3M19 83h3M26 83h1M37 83h1M41 83h1M53 83h2M59 83h2M0 84h7M8 84h6M15 84h2M18 84h1M26 84h1M31 84h1M56 84h1M58 84h1M60 84h1M0 85h9M12 85h5M20 85h1M22 85h1M26 85h1M53 85h1M60 85h1M0 86h11M12 86h2M15 86h1M17 86h2M25 86h1M27 86h1M52 86h1M57 86h1M60 86h1M62 86h1M0 87h8M9 87h7M18 87h1M53 87h2M63 87h1M0 88h13M16 88h2M20 88h2M45 88h1M51 88h1M0 89h9M11 89h2M14 89h3M61 89h1M0 90h11M14 90h1M20 90h1M0 91h3M5 91h2M9 91h1M11 91h1M15 91h4M22 91h1M53 91h1M55 91h1M58 91h1M1 92h1M9 92h1M16 92h1M42 92h1M4 93h1"/>
</g>
<path d="M300.6 265.59999999999997V361.2H396.3" stroke="#000" stroke-width="1.15" fill="none"/>
<path d="M301.2 359.59999999999997v3.2M299.0 361.2h3.2M324.9 359.59999999999997v3.2M299.0 337.4h3.2M348.6 359.59999999999997v3.2M299.0 313.7h3.2M372.3 359.59999999999997v3.2M299.0 289.9h3.2M396.0 359.59999999999997v3.2M299.0 266.2h3.2M308.3 360.2v2.0M299.6 354.1h2.0M312.5 360.2v2.0M299.6 349.9h2.0M315.5 360.2v2.0M299.6 346.9h2.0M317.8 360.2v2.0M299.6 344.6h2.0M319.6 360.2v2.0M299.6 342.7h2.0M322.6 360.2v2.0M299.6 339.8h2.0M332.0 360.2v2.0M299.6 330.3h2.0M336.2 360.2v2.0M299.6 326.1h2.0M339.2 360.2v2.0M299.6 323.2h2.0M341.5 360.2v2.0M299.6 320.8h2.0M343.3 360.2v2.0M299.6 319.0h2.0M346.3 360.2v2.0M299.6 316.0h2.0M355.7 360.2v2.0M299.6 306.6h2.0M359.9 360.2v2.0M299.6 302.4h2.0M362.9 360.2v2.0M299.6 299.4h2.0M365.2 360.2v2.0M299.6 297.1h2.0M367.0 360.2v2.0M299.6 295.2h2.0M370.0 360.2v2.0M299.6 292.3h2.0M379.4 360.2v2.0M299.6 282.8h2.0M383.6 360.2v2.0M299.6 278.6h2.0M386.6 360.2v2.0M299.6 275.7h2.0M388.9 360.2v2.0M299.6 273.3h2.0M390.7 360.2v2.0M299.6 271.5h2.0M393.7 360.2v2.0M299.6 268.5h2.0" stroke="#000" stroke-width="0.7" fill="none"/>
<text x="302.1" y="370.7" font-size="6.3" text-anchor="middle" stroke="#000" stroke-width="0.42">10<tspan dx="0.3" dy="-2.6" font-size="4.4">0</tspan></text>
<text x="325.8" y="370.7" font-size="6.3" text-anchor="middle" stroke="#000" stroke-width="0.42">10<tspan dx="0.3" dy="-2.6" font-size="4.4">1</tspan></text>
<text x="296.8" y="339.1" font-size="6.3" text-anchor="end" stroke="#000" stroke-width="0.42">10<tspan dx="0.3" dy="-2.6" font-size="4.4">1</tspan></text>
<text x="349.5" y="370.7" font-size="6.3" text-anchor="middle" stroke="#000" stroke-width="0.42">10<tspan dx="0.3" dy="-2.6" font-size="4.4">2</tspan></text>
<text x="296.8" y="315.3" font-size="6.3" text-anchor="end" stroke="#000" stroke-width="0.42">10<tspan dx="0.3" dy="-2.6" font-size="4.4">2</tspan></text>
<text x="373.2" y="370.7" font-size="6.3" text-anchor="middle" stroke="#000" stroke-width="0.42">10<tspan dx="0.3" dy="-2.6" font-size="4.4">3</tspan></text>
<text x="296.8" y="291.6" font-size="6.3" text-anchor="end" stroke="#000" stroke-width="0.42">10<tspan dx="0.3" dy="-2.6" font-size="4.4">3</tspan></text>
<text x="396.9" y="370.7" font-size="6.3" text-anchor="middle" stroke="#000" stroke-width="0.42">10<tspan dx="0.3" dy="-2.6" font-size="4.4">4</tspan></text>
<text x="296.8" y="270.4" font-size="6.3" text-anchor="end" stroke="#000" stroke-width="0.42">10<tspan dx="0.3" dy="-2.6" font-size="4.4">4</tspan></text>
<text x="313.8" y="261.2" font-size="9.7" text-anchor="start" textLength="63.2" lengthAdjust="spacing" stroke="#000" stroke-width="0.18">CD14 depleted</text>
<path d="M442.4 266.8V361.2M418.0 323.9H513.2" stroke="#484848" stroke-width="1.3" fill="none"/>
<g transform="translate(418 266.5)" filter="url(#bl)" fill="none" stroke="#000" stroke-width="1">
<path d="M31 3h1M53 3h1M14 5h1M42 5h1M29 6h1M39 6h1M43 6h1M53 6h2M29 7h1M38 7h1M49 7h1M52 7h1M30 8h1M32 8h1M34 8h1M39 8h2M45 8h1M47 8h1M52 8h1M56 8h1M33 9h4M50 9h1M53 9h1M58 9h2M6 10h1M15 10h1M25 10h1M32 10h1M37 10h1M39 10h2M42 10h1M45 10h1M47 10h2M51 10h1M53 10h2M65 10h1M27 11h2M30 11h4M36 11h1M39 11h1M41 11h1M43 11h1M46 11h1M48 11h3M52 11h1M55 11h1M57 11h1M60 11h2M73 11h1M3 12h1M18 12h1M22 12h1M30 12h1M32 12h1M34 12h4M41 12h2M44 12h1M46 12h1M48 12h1M52 12h2M57 12h1M59 12h3M63 12h1M7 13h1M18 13h2M27 13h1M29 13h1M32 13h1M35 13h2M39 13h1M42 13h4M49 13h1M51 13h3M55 13h2M59 13h1M63 13h1M66 13h1M0 14h2M18 14h1M20 14h1M22 14h1M25 14h1M28 14h1M31 14h2M34 14h1M36 14h1M39 14h1M46 14h1M49 14h1M56 14h1M64 14h2M69 14h1M4 15h2M18 15h1M23 15h1M25 15h3M32 15h2M38 15h1M47 15h1M55 15h1M57 15h1M61 15h1M69 15h1M2 16h2M5 16h1M9 16h3M16 16h1M18 16h2M21 16h2M26 16h2M29 16h2M40 16h1M60 16h1M0 17h1M2 17h1M6 17h1M8 17h1M13 17h1M15 17h2M20 17h1M22 17h1M24 17h5M31 17h1M60 17h1M62 17h1M0 18h2M3 18h4M8 18h1M14 18h2M20 18h2M25 18h2M33 18h1M60 18h1M3 19h1M7 19h1M9 19h1M11 19h1M13 19h2M16 19h3M21 19h2M24 19h1M28 19h2M33 19h1M60 19h1M62 19h1M0 20h6M9 20h3M14 20h3M21 20h2M26 20h1M34 20h1M46 20h1M59 20h2M64 20h1M0 21h1M3 21h1M7 21h1M11 21h5M17 21h1M20 21h1M23 21h1M28 21h2M31 21h1M60 21h1M64 21h1M0 22h1M3 22h1M5 22h5M11 22h1M13 22h1M18 22h1M25 22h1M27 22h1M1 23h1M4 23h3M10 23h2M13 23h1M19 23h2M26 23h1M28 23h1M32 23h1M34 23h1M54 23h1M60 23h2M64 23h1M2 24h1M4 24h3M8 24h2M12 24h1M14 24h6M23 24h1M31 24h1M48 24h1M3 25h2M7 25h2M11 25h4M16 25h2M19 25h2M24 25h2M57 25h1M60 25h1M63 25h1M65 25h1M4 26h1M8 26h1M10 26h5M16 26h1M21 26h1M26 26h3M31 26h1M61 26h1M6 27h1M10 27h1M12 27h1M14 27h1M17 27h1M19 27h1M21 27h1M23 27h10M34 27h1M61 27h1M4 28h1M7 28h1M19 28h1M21 28h1M24 28h5M30 28h2M9 29h2M13 29h1M18 29h2M21 29h1M24 29h1M27 29h1M31 29h4M48 29h1M60 29h1M9 30h1M17 30h2M20 30h1M24 30h2M28 30h2M31 30h2M61 30h1M20 31h1M24 31h1M39 31h1M11 32h1M14 32h1M19 32h1M29 32h1M31 32h2M34 32h4M59 32h3M67 32h1M23 33h1M26 33h1M28 33h1M31 33h1M40 33h1M58 33h1M61 33h2M5 34h1M11 34h1M18 34h1M24 34h2M28 34h1M33 34h1M42 34h1M12 35h1M26 35h1M29 35h3M33 35h1M35 35h1M41 35h1M60 35h2M7 36h1M22 36h1M26 36h1M28 36h1M33 36h2M38 36h1M61 36h2M5 37h1M24 37h1M27 37h2M30 37h3M34 37h1M37 37h1M39 37h1M60 37h2M65 37h1M28 38h1M33 38h1M60 38h1M26 39h1M33 39h2M37 39h1M39 39h1M62 39h2M5 40h1M24 40h2M27 40h1M29 40h3M35 40h2M39 40h1M63 40h1M65 40h1M15 41h1M25 41h1M28 41h1M31 41h3M37 41h1M60 41h2M23 42h1M29 42h1M32 42h1M61 42h2M65 42h1M6 43h1M25 43h1M28 43h2M32 43h1M34 43h1M37 43h2M60 43h1M62 43h1M34 44h1M38 44h1M63 44h1M9 45h1M19 45h2M23 45h1M26 45h1M28 45h2M31 45h4M39 45h1M60 45h1M76 45h1M16 46h1M20 46h1M22 46h1M25 46h1M28 46h1M30 46h1M33 46h2M37 46h1M40 46h1M66 46h1M27 47h3M38 47h2M41 47h2M61 47h1M67 47h1M11 48h1M15 48h1M25 48h2M29 48h3M35 48h1M37 48h1M41 48h1M62 48h1M65 48h1M2 49h1M15 49h1M20 49h1M23 49h2M27 49h1M29 49h2M33 49h1M35 49h1M39 49h1M60 49h2M64 49h2M12 50h1M19 50h1M22 50h1M26 50h4M31 50h2M36 50h2M40 50h1M54 50h1M60 50h2M63 50h2M17 51h1M20 51h1M22 51h1M28 51h1M30 51h1M61 51h1M14 52h1M25 52h1M30 52h4M35 52h1M38 52h1M61 52h1M8 53h1M14 53h1M18 53h1M25 53h3M31 53h1M33 53h1M35 53h1M37 53h1M40 53h1M42 53h1M56 53h1M61 53h1M7 54h1M14 54h1M19 54h1M21 54h4M27 54h1M30 54h2M33 54h1M59 54h3M3 55h1M19 55h1M21 55h2M25 55h1M30 55h8M59 55h2M0 56h1M3 56h1M6 56h1M8 56h1M10 56h1M19 56h2M23 56h1M25 56h2M28 56h1M30 56h1M32 56h2M36 56h1M38 56h4M0 57h2M5 57h1M7 57h2M13 57h3M19 57h6M27 57h1M30 57h2M34 57h1M37 57h2M40 57h1M42 57h1M44 57h1M48 57h1M55 57h1M58 57h7M1 58h1M3 58h2M8 58h1M10 58h1M14 58h3M18 58h2M23 58h1M26 58h2M31 58h1M34 58h2M37 58h2M40 58h3M46 58h1M48 58h1M50 58h2M57 58h1M60 58h1M63 58h1M0 59h1M2 59h1M4 59h1M6 59h1M10 59h1M12 59h3M16 59h1M20 59h1M39 59h3M44 59h3M48 59h1M50 59h2M53 59h1M56 59h1M58 59h2M3 60h1M5 60h1M14 60h7M24 60h1M26 60h1M29 60h2M33 60h1M43 60h4M48 60h1M50 60h2M53 60h1M55 60h1M59 60h1M62 60h1M2 61h1M5 61h1M8 61h1M10 61h1M14 61h1M18 61h3M24 61h1M29 61h1M34 61h1M36 61h1M41 61h5M47 61h1M50 61h3M54 61h1M62 61h1M1 62h3M5 62h1M11 62h2M14 62h1M16 62h1M18 62h1M20 62h1M26 62h3M31 62h1M33 62h1M42 62h2M48 62h1M51 62h1M54 62h1M61 62h1M65 62h1M1 63h1M3 63h2M8 63h1M15 63h1M18 63h1M20 63h1M23 63h1M27 63h1M41 63h5M49 63h2M52 63h1M54 63h1M61 63h1M64 63h1M1 64h1M3 64h3M8 64h1M10 64h1M12 64h3M18 64h3M22 64h2M29 64h1M32 64h1M38 64h1M43 64h3M47 64h1M50 64h2M57 64h1M62 64h1M0 65h2M3 65h2M6 65h2M10 65h1M14 65h3M18 65h1M25 65h1M28 65h1M30 65h2M34 65h2M37 65h1M39 65h2M42 65h3M48 65h5M54 65h2M63 65h2M6 66h2M9 66h4M15 66h1M18 66h1M26 66h1M32 66h1M34 66h1M38 66h1M42 66h1M46 66h1M48 66h4M53 66h1M62 66h1M64 66h1M0 67h1M4 67h2M8 67h1M11 67h1M15 67h2M18 67h2M22 67h1M24 67h1M29 67h1M31 67h3M37 67h1M39 67h2M42 67h1M44 67h1M49 67h1M51 67h1M54 67h1M64 67h1M3 68h1M10 68h1M12 68h2M18 68h3M24 68h1M27 68h1M33 68h2M43 68h1M46 68h1M48 68h2M51 68h2M54 68h1M64 68h1M0 69h1M6 69h1M8 69h1M10 69h3M15 69h5M27 69h3M47 69h1M49 69h1M51 69h1M54 69h2M60 69h1M66 69h1M11 70h1M14 70h2M18 70h2M21 70h1M24 70h2M27 70h1M30 70h1M33 70h3M37 70h2M42 70h1M47 70h4M54 70h1M63 70h1M65 70h1M0 71h1M6 71h4M11 71h2M14 71h2M17 71h1M24 71h3M28 71h1M35 71h1M37 71h2M43 71h1M48 71h2M52 71h3M1 72h1M7 72h2M11 72h4M16 72h1M18 72h1M20 72h1M23 72h1M25 72h1M28 72h2M37 72h2M44 72h2M49 72h1M52 72h2M3 73h1M7 73h2M14 73h2M17 73h1M23 73h3M30 73h2M34 73h1M36 73h1M38 73h1M40 73h1M48 73h1M53 73h2M56 73h1M63 73h2M2 74h1M12 74h1M16 74h3M20 74h1M28 74h1M32 74h2M40 74h1M43 74h1M48 74h2M51 74h1M63 74h1M2 75h1M4 75h1M13 75h4M18 75h1M20 75h1M23 75h2M44 75h1M46 75h1M49 75h1M53 75h1M55 75h1M7 76h1M12 76h1M14 76h2M17 76h1M21 76h1M28 76h1M31 76h1M41 76h1M45 76h1M47 76h2M51 76h1M55 76h2M60 76h2M63 76h1M0 77h1M2 77h1M8 77h2M11 77h2M14 77h1M16 77h1M19 77h3M23 77h1M26 77h1M28 77h1M39 77h1M44 77h3M51 77h2M62 77h1M64 77h2M0 78h1M5 78h1M8 78h2M12 78h2M15 78h2M18 78h2M21 78h1M23 78h1M26 78h1M28 78h1M32 78h1M36 78h2M39 78h1M41 78h1M47 78h1M50 78h1M53 78h3M58 78h3M62 78h2M65 78h1M8 79h1M14 79h5M23 79h2M26 79h2M44 79h1M47 79h2M50 79h2M53 79h3M59 79h2M62 79h1M66 79h1M3 80h1M9 80h1M11 80h2M14 80h1M16 80h3M21 80h1M24 80h1M26 80h2M33 80h1M38 80h1M46 80h1M52 80h1M54 80h1M57 80h2M62 80h2M4 81h1M9 81h2M14 81h1M16 81h1M18 81h1M20 81h1M25 81h1M28 81h1M32 81h1M34 81h1M36 81h1M40 81h2M44 81h1M47 81h2M55 81h1M59 81h3M0 82h1M2 82h1M10 82h3M14 82h1M16 82h3M22 82h1M24 82h1M26 82h2M31 82h2M40 82h1M48 82h2M59 82h2M62 82h2M0 83h1M7 83h1M9 83h1M11 83h5M17 83h2M20 83h2M24 83h1M38 83h1M49 83h1M54 83h3M62 83h1M64 83h1M5 84h1M10 84h1M12 84h1M14 84h2M17 84h1M19 84h1M21 84h1M24 84h1M26 84h3M31 84h1M35 84h1M37 84h1M39 84h1M49 84h1M51 84h1M58 84h1M60 84h6M0 85h1M2 85h1M8 85h1M12 85h1M14 85h1M16 85h1M53 85h1M61 85h2M8 86h1M10 86h1M13 86h1M17 86h1M19 86h1M22 86h1M24 86h1M31 86h1M35 86h1M38 86h1M40 86h1M42 86h1M52 86h1M57 86h1M59 86h1M61 86h1M64 86h2M2 87h1M7 87h1M11 87h1M13 87h5M20 87h3M26 87h1M37 87h1M48 87h1M50 87h1M59 87h1M61 87h2M67 87h1M3 88h1M7 88h2M13 88h1M15 88h4M22 88h3M27 88h1M29 88h1M44 88h1M49 88h2M60 88h1M1 89h1M5 89h2M8 89h1M10 89h1M13 89h1M15 89h2M19 89h1M22 89h2M27 89h2M31 89h1M36 89h1M59 89h1M0 90h8M10 90h2M13 90h1M17 90h2M20 90h1M22 90h2M50 90h1M1 91h1M4 91h2M7 91h1M9 91h1M13 91h2M16 91h1M22 91h2M25 91h1M2 92h3M7 92h2M10 92h3M16 92h3M21 92h1M32 92h1M44 92h1M51 92h1M6 93h1M9 93h2M15 93h1M18 93h1M20 93h1M23 93h1M26 93h1M43 93h1" stroke-opacity="0.5"/>
<path d="M32 9h1M43 9h1M36 10h1M54 11h1M29 12h1M31 12h1M39 12h2M45 12h1M58 12h1M33 13h2M37 13h2M40 13h2M46 13h3M50 13h1M54 13h1M58 13h1M60 13h1M27 14h1M29 14h2M33 14h1M35 14h1M37 14h2M40 14h6M47 14h2M50 14h6M57 14h3M61 14h1M6 15h1M30 15h2M34 15h4M39 15h8M48 15h7M56 15h1M58 15h3M23 16h1M28 16h1M32 16h8M41 16h19M61 16h1M11 17h1M23 17h1M32 17h28M7 18h1M12 18h2M17 18h1M23 18h1M27 18h6M34 18h26M0 19h3M4 19h3M8 19h1M10 19h1M12 19h1M15 19h1M20 19h1M26 19h2M30 19h3M34 19h26M61 19h1M6 20h2M12 20h1M18 20h3M23 20h3M28 20h6M35 20h11M47 20h12M61 20h1M1 21h2M4 21h1M6 21h1M9 21h1M16 21h1M19 21h1M22 21h1M24 21h4M30 21h1M33 21h27M1 22h1M4 22h1M10 22h1M12 22h1M14 22h2M17 22h1M19 22h2M22 22h3M26 22h1M28 22h33M0 23h1M2 23h2M7 23h2M12 23h1M15 23h4M21 23h1M23 23h3M27 23h1M29 23h3M33 23h1M35 23h19M55 23h5M0 24h1M3 24h1M7 24h1M10 24h1M13 24h1M22 24h1M24 24h4M29 24h2M32 24h16M49 24h12M0 25h3M5 25h2M10 25h1M15 25h1M18 25h1M22 25h2M26 25h31M58 25h2M61 25h1M0 26h4M5 26h3M9 26h1M15 26h1M18 26h3M22 26h4M29 26h2M32 26h29M0 27h6M7 27h3M11 27h1M13 27h1M15 27h1M18 27h1M20 27h1M22 27h1M33 27h1M35 27h26M65 27h1M0 28h4M5 28h2M8 28h5M15 28h3M20 28h1M22 28h2M29 28h1M32 28h30M1 29h8M11 29h2M14 29h4M20 29h1M22 29h2M26 29h1M28 29h3M35 29h13M49 29h11M0 30h9M10 30h7M19 30h1M21 30h1M23 30h1M26 30h1M30 30h1M33 30h28M0 31h20M21 31h3M25 31h6M32 31h7M40 31h22M0 32h11M12 32h2M15 32h4M20 32h9M30 32h1M38 32h21M63 32h1M0 33h23M24 33h2M27 33h1M33 33h7M41 33h17M59 33h2M0 34h5M6 34h5M12 34h6M19 34h5M26 34h2M29 34h3M34 34h2M37 34h5M43 34h19M0 35h12M13 35h13M27 35h2M32 35h1M34 35h1M36 35h5M42 35h18M0 36h7M8 36h14M23 36h3M27 36h1M29 36h1M31 36h2M35 36h3M39 36h22M0 37h5M6 37h18M25 37h1M29 37h1M35 37h2M38 37h1M40 37h20M0 38h24M25 38h3M29 38h1M31 38h1M34 38h26M0 39h26M27 39h4M32 39h1M35 39h2M38 39h1M40 39h21M0 40h5M6 40h17M26 40h1M28 40h1M32 40h3M37 40h2M40 40h20M0 41h15M16 41h9M26 41h2M29 41h1M34 41h3M38 41h22M0 42h23M24 42h5M30 42h2M33 42h2M36 42h24M0 43h6M7 43h17M26 43h2M31 43h1M33 43h1M35 43h2M39 43h21M0 44h31M32 44h2M35 44h2M39 44h22M0 45h9M10 45h9M21 45h2M24 45h2M27 45h1M35 45h4M40 45h20M61 45h1M0 46h16M17 46h3M21 46h1M23 46h2M29 46h1M31 46h2M35 46h2M39 46h1M41 46h20M0 47h27M31 47h1M33 47h4M40 47h1M43 47h18M0 48h11M12 48h3M16 48h9M27 48h2M32 48h3M36 48h1M38 48h3M42 48h19M0 49h2M3 49h12M16 49h4M21 49h2M26 49h1M28 49h1M31 49h2M34 49h1M36 49h3M40 49h20M0 50h12M13 50h6M20 50h2M23 50h3M30 50h1M33 50h3M38 50h2M41 50h13M55 50h5M0 51h17M18 51h2M21 51h1M23 51h4M29 51h1M31 51h1M33 51h28M0 52h14M15 52h10M26 52h4M36 52h2M39 52h22M0 53h8M9 53h5M15 53h3M19 53h6M28 53h3M34 53h1M36 53h1M38 53h2M41 53h1M43 53h13M57 53h4M0 54h7M8 54h6M15 54h4M20 54h1M26 54h1M28 54h2M32 54h1M34 54h25M0 55h3M4 55h15M20 55h1M23 55h2M26 55h2M29 55h1M38 55h21M1 56h2M4 56h2M7 56h1M9 56h1M11 56h8M21 56h2M24 56h1M27 56h1M29 56h1M34 56h2M37 56h1M42 56h20M3 57h2M6 57h1M9 57h4M17 57h1M25 57h1M35 57h2M39 57h1M43 57h1M45 57h2M50 57h5M56 57h2M0 58h1M2 58h1M5 58h3M11 58h2M17 58h1M20 58h1M29 58h1M44 58h1M47 58h1M53 58h4M58 58h2M62 58h1M3 59h1M7 59h2M11 59h1M32 59h1M47 59h1M52 59h1M54 59h2M57 59h1M60 59h3M0 60h1M4 60h1M6 60h1M9 60h1M28 60h1M47 60h1M54 60h1M56 60h3M60 60h2M63 60h1M1 61h1M3 61h2M6 61h2M12 61h1M15 61h1M23 61h1M48 61h2M53 61h1M56 61h6M63 61h1M0 62h1M6 62h1M8 62h2M15 62h1M22 62h1M40 62h1M47 62h1M52 62h2M55 62h6M62 62h1M2 63h1M6 63h2M9 63h2M12 63h3M24 63h1M51 63h1M53 63h1M55 63h6M62 63h2M0 64h1M2 64h1M6 64h2M16 64h2M25 64h1M53 64h4M58 64h4M63 64h2M5 65h1M9 65h1M11 65h2M17 65h1M20 65h2M23 65h1M45 65h1M53 65h1M56 65h7M0 66h3M4 66h1M8 66h1M13 66h2M19 66h2M45 66h1M54 66h8M63 66h1M1 67h2M6 67h2M9 67h2M12 67h1M14 67h1M55 67h9M0 68h3M4 68h6M11 68h1M14 68h2M44 68h1M47 68h1M50 68h1M55 68h9M1 69h5M7 69h1M9 69h1M13 69h2M23 69h1M50 69h1M52 69h1M56 69h4M61 69h4M0 70h11M12 70h1M17 70h1M51 70h3M55 70h8M64 70h1M1 71h5M10 71h1M13 71h1M16 71h1M18 71h2M51 71h1M55 71h9M0 72h1M2 72h5M9 72h2M15 72h1M19 72h1M35 72h1M51 72h1M54 72h10M0 73h3M4 73h3M9 73h1M11 73h2M16 73h1M19 73h2M41 73h1M55 73h1M57 73h6M0 74h2M3 74h9M14 74h2M21 74h1M52 74h1M54 74h9M64 74h1M0 75h2M3 75h1M5 75h8M19 75h1M21 75h2M32 75h1M54 75h1M56 75h8M0 76h7M8 76h4M13 76h1M16 76h1M19 76h1M52 76h2M57 76h3M62 76h1M1 77h1M3 77h5M10 77h1M13 77h1M15 77h1M17 77h1M56 77h6M1 78h4M6 78h2M10 78h2M14 78h1M17 78h1M52 78h1M56 78h2M61 78h1M0 79h8M9 79h4M57 79h2M61 79h1M0 80h3M4 80h5M13 80h1M20 80h1M22 80h2M35 80h1M55 80h2M59 80h1M61 80h1M0 81h4M5 81h4M11 81h3M17 81h1M19 81h1M21 81h1M62 81h1M1 82h1M3 82h7M13 82h1M19 82h2M25 82h1M38 82h1M61 82h1M1 83h6M8 83h1M10 83h1M16 83h1M27 83h1M52 83h1M58 83h3M0 84h5M6 84h4M11 84h1M18 84h1M55 84h2M1 85h1M3 85h5M10 85h1M13 85h1M18 85h1M21 85h1M0 86h7M11 86h1M14 86h2M0 87h2M3 87h2M6 87h1M8 87h3M12 87h1M19 87h1M0 88h3M4 88h3M9 88h1M11 88h2M48 88h1M2 89h3M7 89h1M9 89h1M12 89h1M16 90h1M0 91h1M6 91h1M8 91h1M2 93h1M12 93h1"/>
</g>
<path d="M417.4 265.59999999999997V361.2H514.1" stroke="#000" stroke-width="1.15" fill="none"/>
<path d="M418.0 359.59999999999997v3.2M415.8 361.2h3.2M441.9 359.59999999999997v3.2M415.8 337.4h3.2M465.9 359.59999999999997v3.2M415.8 313.7h3.2M489.9 359.59999999999997v3.2M415.8 289.9h3.2M513.8 359.59999999999997v3.2M415.8 266.2h3.2M425.2 360.2v2.0M416.4 354.1h2.0M429.4 360.2v2.0M416.4 349.9h2.0M432.4 360.2v2.0M416.4 346.9h2.0M434.7 360.2v2.0M416.4 344.6h2.0M436.6 360.2v2.0M416.4 342.7h2.0M439.6 360.2v2.0M416.4 339.8h2.0M449.2 360.2v2.0M416.4 330.3h2.0M453.4 360.2v2.0M416.4 326.1h2.0M456.4 360.2v2.0M416.4 323.2h2.0M458.7 360.2v2.0M416.4 320.8h2.0M460.6 360.2v2.0M416.4 319.0h2.0M463.6 360.2v2.0M416.4 316.0h2.0M473.1 360.2v2.0M416.4 306.6h2.0M477.3 360.2v2.0M416.4 302.4h2.0M480.3 360.2v2.0M416.4 299.4h2.0M482.6 360.2v2.0M416.4 297.1h2.0M484.5 360.2v2.0M416.4 295.2h2.0M487.5 360.2v2.0M416.4 292.3h2.0M497.1 360.2v2.0M416.4 282.8h2.0M501.3 360.2v2.0M416.4 278.6h2.0M504.3 360.2v2.0M416.4 275.7h2.0M506.6 360.2v2.0M416.4 273.3h2.0M508.5 360.2v2.0M416.4 271.5h2.0M511.5 360.2v2.0M416.4 268.5h2.0" stroke="#000" stroke-width="0.7" fill="none"/>
<text x="418.9" y="370.7" font-size="6.3" text-anchor="middle" stroke="#000" stroke-width="0.42">10<tspan dx="0.3" dy="-2.6" font-size="4.4">0</tspan></text>
<text x="442.8" y="370.7" font-size="6.3" text-anchor="middle" stroke="#000" stroke-width="0.42">10<tspan dx="0.3" dy="-2.6" font-size="4.4">1</tspan></text>
<text x="413.6" y="339.1" font-size="6.3" text-anchor="end" stroke="#000" stroke-width="0.42">10<tspan dx="0.3" dy="-2.6" font-size="4.4">1</tspan></text>
<text x="466.8" y="370.7" font-size="6.3" text-anchor="middle" stroke="#000" stroke-width="0.42">10<tspan dx="0.3" dy="-2.6" font-size="4.4">2</tspan></text>
<text x="413.6" y="315.3" font-size="6.3" text-anchor="end" stroke="#000" stroke-width="0.42">10<tspan dx="0.3" dy="-2.6" font-size="4.4">2</tspan></text>
<text x="490.8" y="370.7" font-size="6.3" text-anchor="middle" stroke="#000" stroke-width="0.42">10<tspan dx="0.3" dy="-2.6" font-size="4.4">3</tspan></text>
<text x="413.6" y="291.6" font-size="6.3" text-anchor="end" stroke="#000" stroke-width="0.42">10<tspan dx="0.3" dy="-2.6" font-size="4.4">3</tspan></text>
<text x="514.7" y="370.7" font-size="6.3" text-anchor="middle" stroke="#000" stroke-width="0.42">10<tspan dx="0.3" dy="-2.6" font-size="4.4">4</tspan></text>
<text x="413.6" y="270.4" font-size="6.3" text-anchor="end" stroke="#000" stroke-width="0.42">10<tspan dx="0.3" dy="-2.6" font-size="4.4">4</tspan></text>
<text x="431.3" y="261.2" font-size="9.7" text-anchor="start" textLength="63.2" lengthAdjust="spacing" stroke="#000" stroke-width="0.18">CD16 depleted</text>
<text x="10.2" y="354.5" font-size="10" text-anchor="start" textLength="86.4" lengthAdjust="spacing" transform="rotate(-90 10.2 354.5)" stroke="#000" stroke-width="0.18">CD3,14,16,19,34.PE</text>
<path d="M51.2 384.6H250M325 384.6H518" stroke="#000" stroke-width="1.2" fill="none"/>
<text x="259.5" y="390.8" font-size="9.7" text-anchor="start" textLength="53.5" lengthAdjust="spacing" stroke="#000" stroke-width="0.18">HLA-DR.PC5</text>
</svg>
</body></html>
